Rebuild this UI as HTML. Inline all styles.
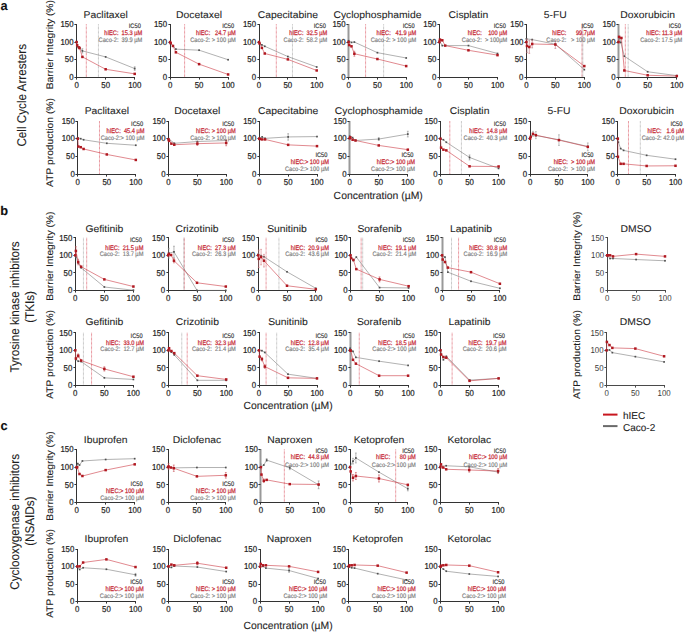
<!DOCTYPE html>
<html><head><meta charset="utf-8"><title>Figure</title>
<style>
html,body{margin:0;padding:0;background:#fff;}
body{width:685px;height:632px;overflow:hidden;font-family:"Liberation Sans", sans-serif;}
svg{display:block;text-rendering:geometricPrecision;}

</style></head><body><div id="w">
<svg width="685" height="632" viewBox="0 0 685 632" font-family='&quot;Liberation Sans&quot;, sans-serif'>
<rect width="100%" height="100%" fill="#fff"/>
<g>
<text font-size="10.35" fill="#1e1e1e" stroke="#1e1e1e" stroke-width="0.08" text-anchor="middle" transform="translate(105.65 18.25) scale(1 0.95)">Paclitaxel</text>
<line x1="86.3" y1="24.4" x2="86.3" y2="77.4" stroke="#d84a58" stroke-width="0.8" stroke-dasharray="0.7,0.6"/>
<line x1="98.45" y1="24.4" x2="98.45" y2="77.4" stroke="#9a9a9a" stroke-width="0.75" stroke-dasharray="0.7,0.6"/>
<line x1="76.5" y1="24" x2="76.5" y2="78" stroke="#333333" stroke-width="1"/>
<line x1="76" y1="77.5" x2="135" y2="77.5" stroke="#333333" stroke-width="1"/>
<line x1="74.4" y1="77.5" x2="76.5" y2="77.5" stroke="#333333" stroke-width="1"/>
<text font-size="7.85" fill="#262626" stroke="#262626" stroke-width="0.2" text-anchor="end" transform="translate(73.6 80.11) scale(1 1.1)">0</text>
<line x1="74.4" y1="59.5" x2="76.5" y2="59.5" stroke="#333333" stroke-width="1"/>
<text font-size="7.85" fill="#262626" stroke="#262626" stroke-width="0.2" text-anchor="end" transform="translate(73.6 62.44) scale(1 1.1)">50</text>
<line x1="74.4" y1="42.5" x2="76.5" y2="42.5" stroke="#333333" stroke-width="1"/>
<text font-size="7.85" fill="#262626" stroke="#262626" stroke-width="0.2" text-anchor="end" transform="translate(73.6 44.78) scale(1 1.1)">100</text>
<line x1="74.4" y1="24.5" x2="76.5" y2="24.5" stroke="#333333" stroke-width="1"/>
<text font-size="7.85" fill="#262626" stroke="#262626" stroke-width="0.2" text-anchor="end" transform="translate(73.6 27.11) scale(1 1.1)">150</text>
<line x1="76.5" y1="77.5" x2="76.5" y2="79.6" stroke="#333333" stroke-width="1"/>
<text font-size="7.85" fill="#262626" stroke="#262626" stroke-width="0.2" text-anchor="middle" transform="translate(76.6 87.95) scale(1 1.1)">0</text>
<line x1="105.5" y1="77.5" x2="105.5" y2="79.6" stroke="#333333" stroke-width="1"/>
<text font-size="7.85" fill="#262626" stroke="#262626" stroke-width="0.2" text-anchor="middle" transform="translate(105.65 87.95) scale(1 1.1)">50</text>
<line x1="134.5" y1="77.5" x2="134.5" y2="79.6" stroke="#333333" stroke-width="1"/>
<text font-size="7.85" fill="#262626" stroke="#262626" stroke-width="0.2" text-anchor="middle" transform="translate(134.7 87.95) scale(1 1.1)">100</text>
<polyline points="76.6,42.07 77.18,46.66 79.5,48.07 82.41,50.9 105.65,56.91 134.7,68.57" fill="none" stroke="#7e7e7e" stroke-width="0.6"/>
<line x1="82.41" y1="48.78" x2="82.41" y2="53.02" stroke="#8a8a8a" stroke-width="0.6"/>
<line x1="81.51" y1="48.78" x2="83.31" y2="48.78" stroke="#8a8a8a" stroke-width="0.6"/>
<line x1="81.51" y1="53.02" x2="83.31" y2="53.02" stroke="#8a8a8a" stroke-width="0.6"/>
<line x1="134.7" y1="66.8" x2="134.7" y2="70.33" stroke="#8a8a8a" stroke-width="0.6"/>
<line x1="133.8" y1="66.8" x2="135.6" y2="66.8" stroke="#8a8a8a" stroke-width="0.6"/>
<line x1="133.8" y1="70.33" x2="135.6" y2="70.33" stroke="#8a8a8a" stroke-width="0.6"/>
<rect x="75.75" y="41.22" width="1.7" height="1.7" fill="#505050"/>
<rect x="76.33" y="45.81" width="1.7" height="1.7" fill="#505050"/>
<rect x="78.66" y="47.22" width="1.7" height="1.7" fill="#505050"/>
<rect x="81.56" y="50.05" width="1.7" height="1.7" fill="#505050"/>
<rect x="104.8" y="56.06" width="1.7" height="1.7" fill="#505050"/>
<rect x="133.85" y="67.72" width="1.7" height="1.7" fill="#505050"/>
<polyline points="76.6,42.07 77.18,45.25 78.92,47.37 79.5,48.07 82.41,56.91 105.65,69.27 134.7,73.87" fill="none" stroke="#cc3a44" stroke-width="0.6"/>
<rect x="75.35" y="40.82" width="2.5" height="2.5" fill="#b01820"/>
<rect x="75.93" y="44" width="2.5" height="2.5" fill="#b01820"/>
<rect x="77.67" y="46.12" width="2.5" height="2.5" fill="#b01820"/>
<rect x="78.25" y="46.82" width="2.5" height="2.5" fill="#b01820"/>
<rect x="81.16" y="55.66" width="2.5" height="2.5" fill="#b01820"/>
<rect x="104.4" y="68.02" width="2.5" height="2.5" fill="#b01820"/>
<rect x="133.45" y="72.62" width="2.5" height="2.5" fill="#b01820"/>
<text font-size="5.7" fill="#333333" stroke="#333333" stroke-width="0.14" text-anchor="end" transform="translate(140.8 27.8) scale(1 1.15)">IC50</text>
<text font-size="5.7" fill="#c8303c" stroke="#c8303c" stroke-width="0.22" text-anchor="end" transform="translate(142.3 34.8) scale(1 1.15)">hIEC:  15.3 µM</text>
<text font-size="5.7" fill="#7a7a7a" stroke="#7a7a7a" stroke-width="0.14" text-anchor="end" transform="translate(142.3 41.9) scale(1 1.15)">Caco-2:  39.9 µM</text>
<text font-size="10.35" fill="#1e1e1e" stroke="#1e1e1e" stroke-width="0.08" text-anchor="middle" transform="translate(199.1 18.25) scale(1 0.95)">Docetaxel</text>
<line x1="184.6" y1="24.4" x2="184.6" y2="77.4" stroke="#d84a58" stroke-width="0.8" stroke-dasharray="0.7,0.6"/>
<line x1="170.5" y1="24" x2="170.5" y2="78" stroke="#333333" stroke-width="1"/>
<line x1="170" y1="77.5" x2="229" y2="77.5" stroke="#333333" stroke-width="1"/>
<line x1="168.4" y1="77.5" x2="170.5" y2="77.5" stroke="#333333" stroke-width="1"/>
<text font-size="7.85" fill="#262626" stroke="#262626" stroke-width="0.2" text-anchor="end" transform="translate(167.1 80.11) scale(1 1.1)">0</text>
<line x1="168.4" y1="59.5" x2="170.5" y2="59.5" stroke="#333333" stroke-width="1"/>
<text font-size="7.85" fill="#262626" stroke="#262626" stroke-width="0.2" text-anchor="end" transform="translate(167.1 62.44) scale(1 1.1)">50</text>
<line x1="168.4" y1="42.5" x2="170.5" y2="42.5" stroke="#333333" stroke-width="1"/>
<text font-size="7.85" fill="#262626" stroke="#262626" stroke-width="0.2" text-anchor="end" transform="translate(167.1 44.78) scale(1 1.1)">100</text>
<line x1="168.4" y1="24.5" x2="170.5" y2="24.5" stroke="#333333" stroke-width="1"/>
<text font-size="7.85" fill="#262626" stroke="#262626" stroke-width="0.2" text-anchor="end" transform="translate(167.1 27.11) scale(1 1.1)">150</text>
<line x1="170.5" y1="77.5" x2="170.5" y2="79.6" stroke="#333333" stroke-width="1"/>
<text font-size="7.85" fill="#262626" stroke="#262626" stroke-width="0.2" text-anchor="middle" transform="translate(170.1 87.95) scale(1 1.1)">0</text>
<line x1="199.5" y1="77.5" x2="199.5" y2="79.6" stroke="#333333" stroke-width="1"/>
<text font-size="7.85" fill="#262626" stroke="#262626" stroke-width="0.2" text-anchor="middle" transform="translate(199.1 87.95) scale(1 1.1)">50</text>
<line x1="228.5" y1="77.5" x2="228.5" y2="79.6" stroke="#333333" stroke-width="1"/>
<text font-size="7.85" fill="#262626" stroke="#262626" stroke-width="0.2" text-anchor="middle" transform="translate(228.1 87.95) scale(1 1.1)">100</text>
<polyline points="170.1,42.42 175.9,49.13 199.1,50.19 228.1,59.73" fill="none" stroke="#7e7e7e" stroke-width="0.6"/>
<rect x="169.25" y="41.57" width="1.7" height="1.7" fill="#505050"/>
<rect x="175.05" y="48.28" width="1.7" height="1.7" fill="#505050"/>
<rect x="198.25" y="49.34" width="1.7" height="1.7" fill="#505050"/>
<rect x="227.25" y="58.88" width="1.7" height="1.7" fill="#505050"/>
<polyline points="170.1,42.07 170.68,43.13 173,45.95 175.9,52.31 199.1,64.15 228.1,74.47" fill="none" stroke="#cc3a44" stroke-width="0.6"/>
<rect x="168.85" y="40.82" width="2.5" height="2.5" fill="#b01820"/>
<rect x="169.43" y="41.88" width="2.5" height="2.5" fill="#b01820"/>
<rect x="171.75" y="44.7" width="2.5" height="2.5" fill="#b01820"/>
<rect x="174.65" y="51.06" width="2.5" height="2.5" fill="#b01820"/>
<rect x="197.85" y="62.9" width="2.5" height="2.5" fill="#b01820"/>
<rect x="226.85" y="73.22" width="2.5" height="2.5" fill="#b01820"/>
<text font-size="5.7" fill="#333333" stroke="#333333" stroke-width="0.14" text-anchor="end" transform="translate(234.2 27.8) scale(1 1.15)">IC50</text>
<text font-size="5.7" fill="#c8303c" stroke="#c8303c" stroke-width="0.22" text-anchor="end" transform="translate(235.7 34.8) scale(1 1.15)">hIEC:   24.7 µM</text>
<text font-size="5.7" fill="#7a7a7a" stroke="#7a7a7a" stroke-width="0.14" text-anchor="end" transform="translate(235.7 41.9) scale(1 1.15)">Caco-2: &gt; 100 µM</text>
<text font-size="10.35" fill="#1e1e1e" stroke="#1e1e1e" stroke-width="0.08" text-anchor="middle" transform="translate(287.85 18.25) scale(1 0.95)">Capecitabine</text>
<line x1="276.31" y1="24.4" x2="276.31" y2="77.4" stroke="#d84a58" stroke-width="0.8" stroke-dasharray="0.7,0.6"/>
<line x1="292.47" y1="24.4" x2="292.47" y2="77.4" stroke="#9a9a9a" stroke-width="0.75" stroke-dasharray="0.7,0.6"/>
<line x1="259.5" y1="24" x2="259.5" y2="78" stroke="#333333" stroke-width="1"/>
<line x1="259" y1="77.5" x2="317" y2="77.5" stroke="#333333" stroke-width="1"/>
<line x1="257.4" y1="77.5" x2="259.5" y2="77.5" stroke="#333333" stroke-width="1"/>
<text font-size="7.85" fill="#262626" stroke="#262626" stroke-width="0.2" text-anchor="end" transform="translate(256 80.11) scale(1 1.1)">0</text>
<line x1="257.4" y1="59.5" x2="259.5" y2="59.5" stroke="#333333" stroke-width="1"/>
<text font-size="7.85" fill="#262626" stroke="#262626" stroke-width="0.2" text-anchor="end" transform="translate(256 62.44) scale(1 1.1)">50</text>
<line x1="257.4" y1="42.5" x2="259.5" y2="42.5" stroke="#333333" stroke-width="1"/>
<text font-size="7.85" fill="#262626" stroke="#262626" stroke-width="0.2" text-anchor="end" transform="translate(256 44.78) scale(1 1.1)">100</text>
<line x1="257.4" y1="24.5" x2="259.5" y2="24.5" stroke="#333333" stroke-width="1"/>
<text font-size="7.85" fill="#262626" stroke="#262626" stroke-width="0.2" text-anchor="end" transform="translate(256 27.11) scale(1 1.1)">150</text>
<line x1="259.5" y1="77.5" x2="259.5" y2="79.6" stroke="#333333" stroke-width="1"/>
<text font-size="7.85" fill="#262626" stroke="#262626" stroke-width="0.2" text-anchor="middle" transform="translate(259 87.95) scale(1 1.1)">0</text>
<line x1="287.5" y1="77.5" x2="287.5" y2="79.6" stroke="#333333" stroke-width="1"/>
<text font-size="7.85" fill="#262626" stroke="#262626" stroke-width="0.2" text-anchor="middle" transform="translate(287.85 87.95) scale(1 1.1)">50</text>
<line x1="316.5" y1="77.5" x2="316.5" y2="79.6" stroke="#333333" stroke-width="1"/>
<text font-size="7.85" fill="#262626" stroke="#262626" stroke-width="0.2" text-anchor="middle" transform="translate(316.7 87.95) scale(1 1.1)">100</text>
<polyline points="259,42.42 261.88,44.89 264.77,46.31 287.85,56.55 316.7,66.98" fill="none" stroke="#7e7e7e" stroke-width="0.6"/>
<rect x="258.15" y="41.57" width="1.7" height="1.7" fill="#505050"/>
<rect x="261.03" y="44.04" width="1.7" height="1.7" fill="#505050"/>
<rect x="263.92" y="45.46" width="1.7" height="1.7" fill="#505050"/>
<rect x="287" y="55.7" width="1.7" height="1.7" fill="#505050"/>
<rect x="315.85" y="66.13" width="1.7" height="1.7" fill="#505050"/>
<polyline points="259,42.07 259.58,43.48 261.88,47.9 264.77,53.51 287.85,59.38 316.7,70.47" fill="none" stroke="#cc3a44" stroke-width="0.6"/>
<rect x="257.75" y="40.82" width="2.5" height="2.5" fill="#b01820"/>
<rect x="258.33" y="42.23" width="2.5" height="2.5" fill="#b01820"/>
<rect x="260.63" y="46.65" width="2.5" height="2.5" fill="#b01820"/>
<rect x="263.52" y="52.26" width="2.5" height="2.5" fill="#b01820"/>
<rect x="286.6" y="58.13" width="2.5" height="2.5" fill="#b01820"/>
<rect x="315.45" y="69.22" width="2.5" height="2.5" fill="#b01820"/>
<text font-size="5.7" fill="#333333" stroke="#333333" stroke-width="0.14" text-anchor="end" transform="translate(325.8 27.8) scale(1 1.15)">IC50</text>
<text font-size="5.7" fill="#c8303c" stroke="#c8303c" stroke-width="0.22" text-anchor="end" transform="translate(327.3 34.8) scale(1 1.15)">hIEC:  32.5 µM</text>
<text font-size="5.7" fill="#7a7a7a" stroke="#7a7a7a" stroke-width="0.14" text-anchor="end" transform="translate(327.3 41.9) scale(1 1.15)">Caco-2:  58.2 µM</text>
<text font-size="10.35" fill="#1e1e1e" stroke="#1e1e1e" stroke-width="0.08" text-anchor="middle" transform="translate(377.4 18.25) scale(1 0.95)">Cyclophosphamide</text>
<line x1="365.59" y1="24.4" x2="365.59" y2="77.4" stroke="#d84a58" stroke-width="0.8" stroke-dasharray="0.7,0.6"/>
<line x1="383.62" y1="24.4" x2="383.62" y2="77.4" stroke="#9a9a9a" stroke-width="0.75" stroke-dasharray="0.7,0.6"/>
<rect x="347.5" y="24" width="2" height="53.5" fill="#999999"/>
<line x1="348" y1="77.5" x2="407" y2="77.5" stroke="#333333" stroke-width="1"/>
<line x1="346.4" y1="77.5" x2="348.5" y2="77.5" stroke="#333333" stroke-width="1"/>
<text font-size="7.85" fill="#262626" stroke="#262626" stroke-width="0.2" text-anchor="end" transform="translate(345.6 80.11) scale(1 1.1)">0</text>
<line x1="346.4" y1="59.5" x2="348.5" y2="59.5" stroke="#333333" stroke-width="1"/>
<text font-size="7.85" fill="#262626" stroke="#262626" stroke-width="0.2" text-anchor="end" transform="translate(345.6 62.44) scale(1 1.1)">50</text>
<line x1="346.4" y1="42.5" x2="348.5" y2="42.5" stroke="#333333" stroke-width="1"/>
<text font-size="7.85" fill="#262626" stroke="#262626" stroke-width="0.2" text-anchor="end" transform="translate(345.6 44.78) scale(1 1.1)">100</text>
<line x1="346.4" y1="24.5" x2="348.5" y2="24.5" stroke="#333333" stroke-width="1"/>
<text font-size="7.85" fill="#262626" stroke="#262626" stroke-width="0.2" text-anchor="end" transform="translate(345.6 27.11) scale(1 1.1)">150</text>
<line x1="348.5" y1="77.5" x2="348.5" y2="79.6" stroke="#333333" stroke-width="1"/>
<text font-size="7.85" fill="#262626" stroke="#262626" stroke-width="0.2" text-anchor="middle" transform="translate(348.6 87.95) scale(1 1.1)">0</text>
<line x1="377.5" y1="77.5" x2="377.5" y2="79.6" stroke="#333333" stroke-width="1"/>
<text font-size="7.85" fill="#262626" stroke="#262626" stroke-width="0.2" text-anchor="middle" transform="translate(377.4 87.95) scale(1 1.1)">50</text>
<line x1="406.5" y1="77.5" x2="406.5" y2="79.6" stroke="#333333" stroke-width="1"/>
<text font-size="7.85" fill="#262626" stroke="#262626" stroke-width="0.2" text-anchor="middle" transform="translate(406.2 87.95) scale(1 1.1)">100</text>
<polyline points="348.6,40.76 351.48,42.42 354.36,42.07 377.4,52.67 406.2,57.97" fill="none" stroke="#7e7e7e" stroke-width="0.6"/>
<rect x="347.75" y="39.91" width="1.7" height="1.7" fill="#505050"/>
<rect x="350.63" y="41.57" width="1.7" height="1.7" fill="#505050"/>
<rect x="353.51" y="41.22" width="1.7" height="1.7" fill="#505050"/>
<rect x="376.55" y="51.82" width="1.7" height="1.7" fill="#505050"/>
<rect x="405.35" y="57.12" width="1.7" height="1.7" fill="#505050"/>
<polyline points="348.6,42.07 349.18,45.07 351.48,46.31 354.36,53.73 377.4,59.03 406.2,66.09" fill="none" stroke="#cc3a44" stroke-width="0.6"/>
<line x1="354.36" y1="51.25" x2="354.36" y2="56.2" stroke="#c85058" stroke-width="0.6"/>
<line x1="353.46" y1="51.25" x2="355.26" y2="51.25" stroke="#c85058" stroke-width="0.6"/>
<line x1="353.46" y1="56.2" x2="355.26" y2="56.2" stroke="#c85058" stroke-width="0.6"/>
<rect x="347.35" y="40.82" width="2.5" height="2.5" fill="#b01820"/>
<rect x="347.93" y="43.82" width="2.5" height="2.5" fill="#b01820"/>
<rect x="350.23" y="45.06" width="2.5" height="2.5" fill="#b01820"/>
<rect x="353.11" y="52.48" width="2.5" height="2.5" fill="#b01820"/>
<rect x="376.15" y="57.78" width="2.5" height="2.5" fill="#b01820"/>
<rect x="404.95" y="64.84" width="2.5" height="2.5" fill="#b01820"/>
<text font-size="5.7" fill="#333333" stroke="#333333" stroke-width="0.14" text-anchor="end" transform="translate(414.7 27.8) scale(1 1.15)">IC50</text>
<text font-size="5.7" fill="#c8303c" stroke="#c8303c" stroke-width="0.22" text-anchor="end" transform="translate(416.2 34.8) scale(1 1.15)">hIEC:   41.9 µM</text>
<text font-size="5.7" fill="#7a7a7a" stroke="#7a7a7a" stroke-width="0.14" text-anchor="end" transform="translate(416.2 41.9) scale(1 1.15)">Caco-2: &gt; 100 µM</text>
<text font-size="10.35" fill="#1e1e1e" stroke="#1e1e1e" stroke-width="0.08" text-anchor="middle" transform="translate(468.45 18.25) scale(1 0.95)">Cisplatin</text>
<line x1="439.5" y1="24" x2="439.5" y2="78" stroke="#333333" stroke-width="1"/>
<line x1="439" y1="77.5" x2="498" y2="77.5" stroke="#333333" stroke-width="1"/>
<line x1="437.4" y1="77.5" x2="439.5" y2="77.5" stroke="#333333" stroke-width="1"/>
<text font-size="7.85" fill="#262626" stroke="#262626" stroke-width="0.2" text-anchor="end" transform="translate(436.4 80.11) scale(1 1.1)">0</text>
<line x1="437.4" y1="59.5" x2="439.5" y2="59.5" stroke="#333333" stroke-width="1"/>
<text font-size="7.85" fill="#262626" stroke="#262626" stroke-width="0.2" text-anchor="end" transform="translate(436.4 62.44) scale(1 1.1)">50</text>
<line x1="437.4" y1="42.5" x2="439.5" y2="42.5" stroke="#333333" stroke-width="1"/>
<text font-size="7.85" fill="#262626" stroke="#262626" stroke-width="0.2" text-anchor="end" transform="translate(436.4 44.78) scale(1 1.1)">100</text>
<line x1="437.4" y1="24.5" x2="439.5" y2="24.5" stroke="#333333" stroke-width="1"/>
<text font-size="7.85" fill="#262626" stroke="#262626" stroke-width="0.2" text-anchor="end" transform="translate(436.4 27.11) scale(1 1.1)">150</text>
<line x1="439.5" y1="77.5" x2="439.5" y2="79.6" stroke="#333333" stroke-width="1"/>
<text font-size="7.85" fill="#262626" stroke="#262626" stroke-width="0.2" text-anchor="middle" transform="translate(439.4 87.95) scale(1 1.1)">0</text>
<line x1="468.5" y1="77.5" x2="468.5" y2="79.6" stroke="#333333" stroke-width="1"/>
<text font-size="7.85" fill="#262626" stroke="#262626" stroke-width="0.2" text-anchor="middle" transform="translate(468.45 87.95) scale(1 1.1)">50</text>
<line x1="497.5" y1="77.5" x2="497.5" y2="79.6" stroke="#333333" stroke-width="1"/>
<text font-size="7.85" fill="#262626" stroke="#262626" stroke-width="0.2" text-anchor="middle" transform="translate(497.5 87.95) scale(1 1.1)">100</text>
<polyline points="439.4,40.65 442.3,45.6 468.45,45.6 497.5,53.51" fill="none" stroke="#7e7e7e" stroke-width="0.6"/>
<rect x="438.55" y="39.8" width="1.7" height="1.7" fill="#505050"/>
<rect x="441.45" y="44.75" width="1.7" height="1.7" fill="#505050"/>
<rect x="467.6" y="44.75" width="1.7" height="1.7" fill="#505050"/>
<rect x="496.65" y="52.66" width="1.7" height="1.7" fill="#505050"/>
<polyline points="439.4,42.07 439.98,39.59 442.3,40.3 445.21,45.6 468.45,50.3 497.5,55.14" fill="none" stroke="#cc3a44" stroke-width="0.6"/>
<rect x="438.15" y="40.82" width="2.5" height="2.5" fill="#b01820"/>
<rect x="438.73" y="38.34" width="2.5" height="2.5" fill="#b01820"/>
<rect x="441.05" y="39.05" width="2.5" height="2.5" fill="#b01820"/>
<rect x="443.96" y="44.35" width="2.5" height="2.5" fill="#b01820"/>
<rect x="467.2" y="49.05" width="2.5" height="2.5" fill="#b01820"/>
<rect x="496.25" y="53.89" width="2.5" height="2.5" fill="#b01820"/>
<text font-size="5.7" fill="#333333" stroke="#333333" stroke-width="0.14" text-anchor="end" transform="translate(505.8 27.8) scale(1 1.15)">IC50</text>
<text font-size="5.7" fill="#c8303c" stroke="#c8303c" stroke-width="0.22" text-anchor="end" transform="translate(507.3 34.8) scale(1 1.15)">hIEC:    100 µM</text>
<text font-size="5.7" fill="#7a7a7a" stroke="#7a7a7a" stroke-width="0.14" text-anchor="end" transform="translate(507.3 41.9) scale(1 1.15)">Caco-2:  &gt; 100µM</text>
<text font-size="10.35" fill="#1e1e1e" stroke="#1e1e1e" stroke-width="0.08" text-anchor="middle" transform="translate(555.35 18.25) scale(1 0.95)">5-FU</text>
<line x1="581.98" y1="24.4" x2="581.98" y2="77.4" stroke="#d84a58" stroke-width="0.8" stroke-dasharray="0.7,0.6"/>
<line x1="582.85" y1="24.4" x2="582.85" y2="77.4" stroke="#9a9a9a" stroke-width="0.75" stroke-dasharray="0.7,0.6"/>
<line x1="526.5" y1="24" x2="526.5" y2="78" stroke="#333333" stroke-width="1"/>
<line x1="526" y1="77.5" x2="585" y2="77.5" stroke="#333333" stroke-width="1"/>
<line x1="524.4" y1="77.5" x2="526.5" y2="77.5" stroke="#333333" stroke-width="1"/>
<text font-size="7.85" fill="#262626" stroke="#262626" stroke-width="0.2" text-anchor="end" transform="translate(523.4 80.11) scale(1 1.1)">0</text>
<line x1="524.4" y1="59.5" x2="526.5" y2="59.5" stroke="#333333" stroke-width="1"/>
<text font-size="7.85" fill="#262626" stroke="#262626" stroke-width="0.2" text-anchor="end" transform="translate(523.4 62.44) scale(1 1.1)">50</text>
<line x1="524.4" y1="42.5" x2="526.5" y2="42.5" stroke="#333333" stroke-width="1"/>
<text font-size="7.85" fill="#262626" stroke="#262626" stroke-width="0.2" text-anchor="end" transform="translate(523.4 44.78) scale(1 1.1)">100</text>
<line x1="524.4" y1="24.5" x2="526.5" y2="24.5" stroke="#333333" stroke-width="1"/>
<text font-size="7.85" fill="#262626" stroke="#262626" stroke-width="0.2" text-anchor="end" transform="translate(523.4 27.11) scale(1 1.1)">150</text>
<line x1="526.5" y1="77.5" x2="526.5" y2="79.6" stroke="#333333" stroke-width="1"/>
<text font-size="7.85" fill="#262626" stroke="#262626" stroke-width="0.2" text-anchor="middle" transform="translate(526.4 87.95) scale(1 1.1)">0</text>
<line x1="555.5" y1="77.5" x2="555.5" y2="79.6" stroke="#333333" stroke-width="1"/>
<text font-size="7.85" fill="#262626" stroke="#262626" stroke-width="0.2" text-anchor="middle" transform="translate(555.35 87.95) scale(1 1.1)">50</text>
<line x1="584.5" y1="77.5" x2="584.5" y2="79.6" stroke="#333333" stroke-width="1"/>
<text font-size="7.85" fill="#262626" stroke="#262626" stroke-width="0.2" text-anchor="middle" transform="translate(584.3 87.95) scale(1 1.1)">100</text>
<polyline points="526.4,38.89 532.19,39.59 555.35,44.19 584.3,69.63" fill="none" stroke="#7e7e7e" stroke-width="0.6"/>
<rect x="525.55" y="38.04" width="1.7" height="1.7" fill="#505050"/>
<rect x="531.34" y="38.74" width="1.7" height="1.7" fill="#505050"/>
<rect x="554.5" y="43.34" width="1.7" height="1.7" fill="#505050"/>
<rect x="583.45" y="68.78" width="1.7" height="1.7" fill="#505050"/>
<polyline points="526.4,42.07 526.98,45.95 529.29,47.01 532.19,43.97 555.35,44.54 584.3,66.09" fill="none" stroke="#cc3a44" stroke-width="0.6"/>
<line x1="526.98" y1="39.24" x2="526.98" y2="52.67" stroke="#c07078" stroke-width="0.6"/>
<line x1="526.08" y1="39.24" x2="527.88" y2="39.24" stroke="#c07078" stroke-width="0.6"/>
<line x1="526.08" y1="52.67" x2="527.88" y2="52.67" stroke="#c07078" stroke-width="0.6"/>
<line x1="529.29" y1="40.65" x2="529.29" y2="53.37" stroke="#c07078" stroke-width="0.6"/>
<line x1="528.39" y1="40.65" x2="530.19" y2="40.65" stroke="#c07078" stroke-width="0.6"/>
<line x1="528.39" y1="53.37" x2="530.19" y2="53.37" stroke="#c07078" stroke-width="0.6"/>
<line x1="532.19" y1="40.09" x2="532.19" y2="47.86" stroke="#c07078" stroke-width="0.6"/>
<line x1="531.29" y1="40.09" x2="533.09" y2="40.09" stroke="#c07078" stroke-width="0.6"/>
<line x1="531.29" y1="47.86" x2="533.09" y2="47.86" stroke="#c07078" stroke-width="0.6"/>
<line x1="555.35" y1="40.65" x2="555.35" y2="48.43" stroke="#c07078" stroke-width="0.6"/>
<line x1="554.45" y1="40.65" x2="556.25" y2="40.65" stroke="#c07078" stroke-width="0.6"/>
<line x1="554.45" y1="48.43" x2="556.25" y2="48.43" stroke="#c07078" stroke-width="0.6"/>
<rect x="525.15" y="40.82" width="2.5" height="2.5" fill="#b01820"/>
<rect x="525.73" y="44.7" width="2.5" height="2.5" fill="#b01820"/>
<rect x="528.04" y="45.76" width="2.5" height="2.5" fill="#b01820"/>
<rect x="530.94" y="42.72" width="2.5" height="2.5" fill="#b01820"/>
<rect x="554.1" y="43.29" width="2.5" height="2.5" fill="#b01820"/>
<rect x="583.05" y="64.84" width="2.5" height="2.5" fill="#b01820"/>
<text font-size="5.7" fill="#333333" stroke="#333333" stroke-width="0.14" text-anchor="end" transform="translate(593.5 27.8) scale(1 1.15)">IC50</text>
<text font-size="5.7" fill="#c8303c" stroke="#c8303c" stroke-width="0.22" text-anchor="end" transform="translate(595 34.8) scale(1 1.15)">hIEC:      99.7µM</text>
<text font-size="5.7" fill="#7a7a7a" stroke="#7a7a7a" stroke-width="0.14" text-anchor="end" transform="translate(595 41.9) scale(1 1.15)">Caco-2:   &gt; 100 µM</text>
<text font-size="10.35" fill="#1e1e1e" stroke="#1e1e1e" stroke-width="0.08" text-anchor="middle" transform="translate(647.65 18.25) scale(1 0.95)">Doxorubicin</text>
<line x1="625.32" y1="24.4" x2="625.32" y2="77.4" stroke="#d84a58" stroke-width="0.8" stroke-dasharray="0.7,0.6"/>
<line x1="628.18" y1="24.4" x2="628.18" y2="77.4" stroke="#9a9a9a" stroke-width="0.75" stroke-dasharray="0.7,0.6"/>
<rect x="617.5" y="24" width="2" height="53.5" fill="#999999"/>
<line x1="618" y1="77.5" x2="677" y2="77.5" stroke="#333333" stroke-width="1"/>
<line x1="616.4" y1="77.5" x2="618.5" y2="77.5" stroke="#333333" stroke-width="1"/>
<text font-size="7.85" fill="#262626" stroke="#262626" stroke-width="0.2" text-anchor="end" transform="translate(615.5 80.11) scale(1 1.1)">0</text>
<line x1="616.4" y1="59.5" x2="618.5" y2="59.5" stroke="#333333" stroke-width="1"/>
<text font-size="7.85" fill="#262626" stroke="#262626" stroke-width="0.2" text-anchor="end" transform="translate(615.5 62.44) scale(1 1.1)">50</text>
<line x1="616.4" y1="42.5" x2="618.5" y2="42.5" stroke="#333333" stroke-width="1"/>
<text font-size="7.85" fill="#262626" stroke="#262626" stroke-width="0.2" text-anchor="end" transform="translate(615.5 44.78) scale(1 1.1)">100</text>
<line x1="616.4" y1="24.5" x2="618.5" y2="24.5" stroke="#333333" stroke-width="1"/>
<text font-size="7.85" fill="#262626" stroke="#262626" stroke-width="0.2" text-anchor="end" transform="translate(615.5 27.11) scale(1 1.1)">150</text>
<line x1="618.5" y1="77.5" x2="618.5" y2="79.6" stroke="#333333" stroke-width="1"/>
<text font-size="7.85" fill="#262626" stroke="#262626" stroke-width="0.2" text-anchor="middle" transform="translate(618.5 87.95) scale(1 1.1)">0</text>
<line x1="647.5" y1="77.5" x2="647.5" y2="79.6" stroke="#333333" stroke-width="1"/>
<text font-size="7.85" fill="#262626" stroke="#262626" stroke-width="0.2" text-anchor="middle" transform="translate(647.65 87.95) scale(1 1.1)">50</text>
<line x1="676.5" y1="77.5" x2="676.5" y2="79.6" stroke="#333333" stroke-width="1"/>
<text font-size="7.85" fill="#262626" stroke="#262626" stroke-width="0.2" text-anchor="middle" transform="translate(676.8 87.95) scale(1 1.1)">100</text>
<polyline points="618.5,41.71 619.67,37.65 620.83,42.42 624.33,56.2 647.65,71.75 676.8,75.63" fill="none" stroke="#7e7e7e" stroke-width="0.6"/>
<rect x="617.65" y="40.86" width="1.7" height="1.7" fill="#505050"/>
<rect x="618.82" y="36.8" width="1.7" height="1.7" fill="#505050"/>
<rect x="619.98" y="41.57" width="1.7" height="1.7" fill="#505050"/>
<rect x="623.48" y="55.35" width="1.7" height="1.7" fill="#505050"/>
<rect x="646.8" y="70.9" width="1.7" height="1.7" fill="#505050"/>
<rect x="675.95" y="74.78" width="1.7" height="1.7" fill="#505050"/>
<polyline points="618.5,42.07 619.08,36.84 621.41,37.97 624.33,70.47 647.65,75.28 676.8,76.09" fill="none" stroke="#cc3a44" stroke-width="0.6"/>
<rect x="617.25" y="40.82" width="2.5" height="2.5" fill="#b01820"/>
<rect x="617.83" y="35.59" width="2.5" height="2.5" fill="#b01820"/>
<rect x="620.16" y="36.72" width="2.5" height="2.5" fill="#b01820"/>
<rect x="623.08" y="69.22" width="2.5" height="2.5" fill="#b01820"/>
<rect x="646.4" y="74.03" width="2.5" height="2.5" fill="#b01820"/>
<rect x="675.55" y="74.84" width="2.5" height="2.5" fill="#b01820"/>
<text font-size="5.7" fill="#333333" stroke="#333333" stroke-width="0.14" text-anchor="end" transform="translate(680.8 27.8) scale(1 1.15)">IC50</text>
<text font-size="5.7" fill="#c8303c" stroke="#c8303c" stroke-width="0.22" text-anchor="end" transform="translate(682.3 34.8) scale(1 1.15)">hIEC: 11.3 µM</text>
<text font-size="5.7" fill="#7a7a7a" stroke="#7a7a7a" stroke-width="0.14" text-anchor="end" transform="translate(682.3 41.9) scale(1 1.15)">Caco-2: 17.5 µM</text>
<text font-size="10.35" fill="#1e1e1e" stroke="#1e1e1e" stroke-width="0.08" text-anchor="middle" transform="translate(106.8 114.2) scale(1 0.95)">Paclitaxel</text>
<line x1="99.49" y1="121" x2="99.49" y2="174.1" stroke="#d84a58" stroke-width="0.8" stroke-dasharray="0.7,0.6"/>
<line x1="77.5" y1="121" x2="77.5" y2="175" stroke="#333333" stroke-width="1"/>
<line x1="77" y1="174.5" x2="136" y2="174.5" stroke="#333333" stroke-width="1"/>
<line x1="75.4" y1="174.5" x2="77.5" y2="174.5" stroke="#333333" stroke-width="1"/>
<text font-size="7.85" fill="#262626" stroke="#262626" stroke-width="0.2" text-anchor="end" transform="translate(74.8 176.81) scale(1 1.1)">0</text>
<line x1="75.4" y1="156.5" x2="77.5" y2="156.5" stroke="#333333" stroke-width="1"/>
<text font-size="7.85" fill="#262626" stroke="#262626" stroke-width="0.2" text-anchor="end" transform="translate(74.8 159.11) scale(1 1.1)">50</text>
<line x1="75.4" y1="138.5" x2="77.5" y2="138.5" stroke="#333333" stroke-width="1"/>
<text font-size="7.85" fill="#262626" stroke="#262626" stroke-width="0.2" text-anchor="end" transform="translate(74.8 141.41) scale(1 1.1)">100</text>
<line x1="75.4" y1="121.5" x2="77.5" y2="121.5" stroke="#333333" stroke-width="1"/>
<text font-size="7.85" fill="#262626" stroke="#262626" stroke-width="0.2" text-anchor="end" transform="translate(74.8 123.71) scale(1 1.1)">150</text>
<line x1="77.5" y1="174.5" x2="77.5" y2="176.6" stroke="#333333" stroke-width="1"/>
<text font-size="7.85" fill="#262626" stroke="#262626" stroke-width="0.2" text-anchor="middle" transform="translate(77.8 184.65) scale(1 1.1)">0</text>
<line x1="106.5" y1="174.5" x2="106.5" y2="176.6" stroke="#333333" stroke-width="1"/>
<text font-size="7.85" fill="#262626" stroke="#262626" stroke-width="0.2" text-anchor="middle" transform="translate(106.8 184.65) scale(1 1.1)">50</text>
<line x1="135.5" y1="174.5" x2="135.5" y2="176.6" stroke="#333333" stroke-width="1"/>
<text font-size="7.85" fill="#262626" stroke="#262626" stroke-width="0.2" text-anchor="middle" transform="translate(135.8 184.65) scale(1 1.1)">100</text>
<polyline points="77.8,137.81 80.7,138.7 83.6,139.76 106.8,143.3 135.8,145.25" fill="none" stroke="#7e7e7e" stroke-width="0.6"/>
<rect x="76.95" y="136.97" width="1.7" height="1.7" fill="#505050"/>
<rect x="79.85" y="137.85" width="1.7" height="1.7" fill="#505050"/>
<rect x="82.75" y="138.91" width="1.7" height="1.7" fill="#505050"/>
<rect x="105.95" y="142.45" width="1.7" height="1.7" fill="#505050"/>
<rect x="134.95" y="144.4" width="1.7" height="1.7" fill="#505050"/>
<polyline points="77.8,138.7 78.38,146.56 80.7,147.2 83.6,148.97 106.8,154.45 135.8,159.94" fill="none" stroke="#cc3a44" stroke-width="0.6"/>
<rect x="76.55" y="137.45" width="2.5" height="2.5" fill="#b01820"/>
<rect x="77.13" y="145.31" width="2.5" height="2.5" fill="#b01820"/>
<rect x="79.45" y="145.95" width="2.5" height="2.5" fill="#b01820"/>
<rect x="82.35" y="147.72" width="2.5" height="2.5" fill="#b01820"/>
<rect x="105.55" y="153.2" width="2.5" height="2.5" fill="#b01820"/>
<rect x="134.55" y="158.69" width="2.5" height="2.5" fill="#b01820"/>
<text font-size="5.7" fill="#333333" stroke="#333333" stroke-width="0.14" text-anchor="end" transform="translate(143.1 125.7) scale(1 1.15)">IC50</text>
<text font-size="5.7" fill="#c8303c" stroke="#c8303c" stroke-width="0.22" text-anchor="end" transform="translate(144.6 132.5) scale(1 1.15)">hIEC:  45.4 µM</text>
<text font-size="5.7" fill="#7a7a7a" stroke="#7a7a7a" stroke-width="0.14" text-anchor="end" transform="translate(144.6 139.9) scale(1 1.15)">Caco-2:&gt; 100 µM</text>
<text font-size="10.35" fill="#1e1e1e" stroke="#1e1e1e" stroke-width="0.08" text-anchor="middle" transform="translate(197.35 114.2) scale(1 0.95)">Docetaxel</text>
<line x1="168.5" y1="121" x2="168.5" y2="175" stroke="#333333" stroke-width="1"/>
<line x1="168" y1="174.5" x2="227" y2="174.5" stroke="#333333" stroke-width="1"/>
<line x1="166.4" y1="174.5" x2="168.5" y2="174.5" stroke="#333333" stroke-width="1"/>
<text font-size="7.85" fill="#262626" stroke="#262626" stroke-width="0.2" text-anchor="end" transform="translate(165.5 176.81) scale(1 1.1)">0</text>
<line x1="166.4" y1="156.5" x2="168.5" y2="156.5" stroke="#333333" stroke-width="1"/>
<text font-size="7.85" fill="#262626" stroke="#262626" stroke-width="0.2" text-anchor="end" transform="translate(165.5 159.11) scale(1 1.1)">50</text>
<line x1="166.4" y1="138.5" x2="168.5" y2="138.5" stroke="#333333" stroke-width="1"/>
<text font-size="7.85" fill="#262626" stroke="#262626" stroke-width="0.2" text-anchor="end" transform="translate(165.5 141.41) scale(1 1.1)">100</text>
<line x1="166.4" y1="121.5" x2="168.5" y2="121.5" stroke="#333333" stroke-width="1"/>
<text font-size="7.85" fill="#262626" stroke="#262626" stroke-width="0.2" text-anchor="end" transform="translate(165.5 123.71) scale(1 1.1)">150</text>
<line x1="168.5" y1="174.5" x2="168.5" y2="176.6" stroke="#333333" stroke-width="1"/>
<text font-size="7.85" fill="#262626" stroke="#262626" stroke-width="0.2" text-anchor="middle" transform="translate(168.5 184.65) scale(1 1.1)">0</text>
<line x1="197.5" y1="174.5" x2="197.5" y2="176.6" stroke="#333333" stroke-width="1"/>
<text font-size="7.85" fill="#262626" stroke="#262626" stroke-width="0.2" text-anchor="middle" transform="translate(197.35 184.65) scale(1 1.1)">50</text>
<line x1="226.5" y1="174.5" x2="226.5" y2="176.6" stroke="#333333" stroke-width="1"/>
<text font-size="7.85" fill="#262626" stroke="#262626" stroke-width="0.2" text-anchor="middle" transform="translate(226.2 184.65) scale(1 1.1)">100</text>
<polyline points="168.5,138.7 174.27,143.3 197.35,141.53 226.2,140.47" fill="none" stroke="#7e7e7e" stroke-width="0.6"/>
<rect x="167.65" y="137.85" width="1.7" height="1.7" fill="#505050"/>
<rect x="173.42" y="142.45" width="1.7" height="1.7" fill="#505050"/>
<rect x="196.5" y="140.68" width="1.7" height="1.7" fill="#505050"/>
<rect x="225.35" y="139.62" width="1.7" height="1.7" fill="#505050"/>
<polyline points="168.5,139.41 169.08,140.82 171.38,143.66 174.27,144.72 197.35,143.66 226.2,142.95" fill="none" stroke="#cc3a44" stroke-width="0.6"/>
<line x1="197.35" y1="141.89" x2="197.35" y2="145.43" stroke="#c85058" stroke-width="0.6"/>
<line x1="196.45" y1="141.89" x2="198.25" y2="141.89" stroke="#c85058" stroke-width="0.6"/>
<line x1="196.45" y1="145.43" x2="198.25" y2="145.43" stroke="#c85058" stroke-width="0.6"/>
<line x1="226.2" y1="140.12" x2="226.2" y2="145.78" stroke="#c85058" stroke-width="0.6"/>
<line x1="225.3" y1="140.12" x2="227.1" y2="140.12" stroke="#c85058" stroke-width="0.6"/>
<line x1="225.3" y1="145.78" x2="227.1" y2="145.78" stroke="#c85058" stroke-width="0.6"/>
<rect x="167.25" y="138.16" width="2.5" height="2.5" fill="#b01820"/>
<rect x="167.83" y="139.57" width="2.5" height="2.5" fill="#b01820"/>
<rect x="170.13" y="142.41" width="2.5" height="2.5" fill="#b01820"/>
<rect x="173.02" y="143.47" width="2.5" height="2.5" fill="#b01820"/>
<rect x="196.1" y="142.41" width="2.5" height="2.5" fill="#b01820"/>
<rect x="224.95" y="141.7" width="2.5" height="2.5" fill="#b01820"/>
<text font-size="5.7" fill="#333333" stroke="#333333" stroke-width="0.14" text-anchor="end" transform="translate(234.2 125.7) scale(1 1.15)">IC50</text>
<text font-size="5.7" fill="#c8303c" stroke="#c8303c" stroke-width="0.22" text-anchor="end" transform="translate(235.7 132.5) scale(1 1.15)">hIEC: &gt; 100 µM</text>
<text font-size="5.7" fill="#7a7a7a" stroke="#7a7a7a" stroke-width="0.14" text-anchor="end" transform="translate(235.7 139.9) scale(1 1.15)">Caco-2: &gt; 100 µM</text>
<text font-size="10.35" fill="#1e1e1e" stroke="#1e1e1e" stroke-width="0.08" text-anchor="middle" transform="translate(288.15 114.2) scale(1 0.95)">Capecitabine</text>
<line x1="259.5" y1="121" x2="259.5" y2="175" stroke="#333333" stroke-width="1"/>
<line x1="259" y1="174.5" x2="318" y2="174.5" stroke="#333333" stroke-width="1"/>
<line x1="257.4" y1="174.5" x2="259.5" y2="174.5" stroke="#333333" stroke-width="1"/>
<text font-size="7.85" fill="#262626" stroke="#262626" stroke-width="0.2" text-anchor="end" transform="translate(256.3 176.81) scale(1 1.1)">0</text>
<line x1="257.4" y1="156.5" x2="259.5" y2="156.5" stroke="#333333" stroke-width="1"/>
<text font-size="7.85" fill="#262626" stroke="#262626" stroke-width="0.2" text-anchor="end" transform="translate(256.3 159.11) scale(1 1.1)">50</text>
<line x1="257.4" y1="138.5" x2="259.5" y2="138.5" stroke="#333333" stroke-width="1"/>
<text font-size="7.85" fill="#262626" stroke="#262626" stroke-width="0.2" text-anchor="end" transform="translate(256.3 141.41) scale(1 1.1)">100</text>
<line x1="257.4" y1="121.5" x2="259.5" y2="121.5" stroke="#333333" stroke-width="1"/>
<text font-size="7.85" fill="#262626" stroke="#262626" stroke-width="0.2" text-anchor="end" transform="translate(256.3 123.71) scale(1 1.1)">150</text>
<line x1="259.5" y1="174.5" x2="259.5" y2="176.6" stroke="#333333" stroke-width="1"/>
<text font-size="7.85" fill="#262626" stroke="#262626" stroke-width="0.2" text-anchor="middle" transform="translate(259.3 184.65) scale(1 1.1)">0</text>
<line x1="288.5" y1="174.5" x2="288.5" y2="176.6" stroke="#333333" stroke-width="1"/>
<text font-size="7.85" fill="#262626" stroke="#262626" stroke-width="0.2" text-anchor="middle" transform="translate(288.15 184.65) scale(1 1.1)">50</text>
<line x1="317.5" y1="174.5" x2="317.5" y2="176.6" stroke="#333333" stroke-width="1"/>
<text font-size="7.85" fill="#262626" stroke="#262626" stroke-width="0.2" text-anchor="middle" transform="translate(317 184.65) scale(1 1.1)">100</text>
<polyline points="259.3,138.35 262.19,136.93 265.07,138.35 288.15,136.93 317,136.58" fill="none" stroke="#7e7e7e" stroke-width="0.6"/>
<line x1="288.15" y1="133.74" x2="288.15" y2="140.12" stroke="#8a8a8a" stroke-width="0.6"/>
<line x1="287.25" y1="133.74" x2="289.05" y2="133.74" stroke="#8a8a8a" stroke-width="0.6"/>
<line x1="287.25" y1="140.12" x2="289.05" y2="140.12" stroke="#8a8a8a" stroke-width="0.6"/>
<rect x="258.45" y="137.5" width="1.7" height="1.7" fill="#505050"/>
<rect x="261.33" y="136.08" width="1.7" height="1.7" fill="#505050"/>
<rect x="264.22" y="137.5" width="1.7" height="1.7" fill="#505050"/>
<rect x="287.3" y="136.08" width="1.7" height="1.7" fill="#505050"/>
<rect x="316.15" y="135.73" width="1.7" height="1.7" fill="#505050"/>
<polyline points="259.3,138.7 259.88,139.05 262.19,139.41 265.07,139.41 288.15,144.86 317,146.13" fill="none" stroke="#cc3a44" stroke-width="0.6"/>
<rect x="258.05" y="137.45" width="2.5" height="2.5" fill="#b01820"/>
<rect x="258.63" y="137.8" width="2.5" height="2.5" fill="#b01820"/>
<rect x="260.94" y="138.16" width="2.5" height="2.5" fill="#b01820"/>
<rect x="263.82" y="138.16" width="2.5" height="2.5" fill="#b01820"/>
<rect x="286.9" y="143.61" width="2.5" height="2.5" fill="#b01820"/>
<rect x="315.75" y="144.88" width="2.5" height="2.5" fill="#b01820"/>
<text font-size="5.7" fill="#333333" stroke="#333333" stroke-width="0.14" text-anchor="end" transform="translate(327.4 156.6) scale(1 1.15)">IC50</text>
<text font-size="5.7" fill="#c8303c" stroke="#c8303c" stroke-width="0.22" text-anchor="end" transform="translate(328.9 163.7) scale(1 1.15)">hIEC:&gt; 100 µM</text>
<text font-size="5.7" fill="#7a7a7a" stroke="#7a7a7a" stroke-width="0.14" text-anchor="end" transform="translate(328.9 170.6) scale(1 1.15)">Caco-2:&gt; 100 µM</text>
<text font-size="10.35" fill="#1e1e1e" stroke="#1e1e1e" stroke-width="0.08" text-anchor="middle" transform="translate(378.75 114.2) scale(1 0.95)">Cyclophosphamide</text>
<rect x="348.5" y="121" width="2" height="53.5" fill="#999999"/>
<line x1="349" y1="174.5" x2="408" y2="174.5" stroke="#333333" stroke-width="1"/>
<line x1="347.4" y1="174.5" x2="349.5" y2="174.5" stroke="#333333" stroke-width="1"/>
<text font-size="7.85" fill="#262626" stroke="#262626" stroke-width="0.2" text-anchor="end" transform="translate(346.7 176.81) scale(1 1.1)">0</text>
<line x1="347.4" y1="156.5" x2="349.5" y2="156.5" stroke="#333333" stroke-width="1"/>
<text font-size="7.85" fill="#262626" stroke="#262626" stroke-width="0.2" text-anchor="end" transform="translate(346.7 159.11) scale(1 1.1)">50</text>
<line x1="347.4" y1="138.5" x2="349.5" y2="138.5" stroke="#333333" stroke-width="1"/>
<text font-size="7.85" fill="#262626" stroke="#262626" stroke-width="0.2" text-anchor="end" transform="translate(346.7 141.41) scale(1 1.1)">100</text>
<line x1="347.4" y1="121.5" x2="349.5" y2="121.5" stroke="#333333" stroke-width="1"/>
<text font-size="7.85" fill="#262626" stroke="#262626" stroke-width="0.2" text-anchor="end" transform="translate(346.7 123.71) scale(1 1.1)">150</text>
<line x1="349.5" y1="174.5" x2="349.5" y2="176.6" stroke="#333333" stroke-width="1"/>
<text font-size="7.85" fill="#262626" stroke="#262626" stroke-width="0.2" text-anchor="middle" transform="translate(349.7 184.65) scale(1 1.1)">0</text>
<line x1="378.5" y1="174.5" x2="378.5" y2="176.6" stroke="#333333" stroke-width="1"/>
<text font-size="7.85" fill="#262626" stroke="#262626" stroke-width="0.2" text-anchor="middle" transform="translate(378.75 184.65) scale(1 1.1)">50</text>
<line x1="407.5" y1="174.5" x2="407.5" y2="176.6" stroke="#333333" stroke-width="1"/>
<text font-size="7.85" fill="#262626" stroke="#262626" stroke-width="0.2" text-anchor="middle" transform="translate(407.8 184.65) scale(1 1.1)">100</text>
<polyline points="349.7,136.22 352.61,137.64 355.51,140.47 378.75,139.05 407.8,134.1" fill="none" stroke="#7e7e7e" stroke-width="0.6"/>
<line x1="407.8" y1="131.27" x2="407.8" y2="136.93" stroke="#8a8a8a" stroke-width="0.6"/>
<line x1="406.9" y1="131.27" x2="408.7" y2="131.27" stroke="#8a8a8a" stroke-width="0.6"/>
<line x1="406.9" y1="136.93" x2="408.7" y2="136.93" stroke="#8a8a8a" stroke-width="0.6"/>
<line x1="378.75" y1="137.64" x2="378.75" y2="140.47" stroke="#8a8a8a" stroke-width="0.6"/>
<line x1="377.85" y1="137.64" x2="379.65" y2="137.64" stroke="#8a8a8a" stroke-width="0.6"/>
<line x1="377.85" y1="140.47" x2="379.65" y2="140.47" stroke="#8a8a8a" stroke-width="0.6"/>
<rect x="348.85" y="135.37" width="1.7" height="1.7" fill="#505050"/>
<rect x="351.75" y="136.79" width="1.7" height="1.7" fill="#505050"/>
<rect x="354.66" y="139.62" width="1.7" height="1.7" fill="#505050"/>
<rect x="377.9" y="138.2" width="1.7" height="1.7" fill="#505050"/>
<rect x="406.95" y="133.25" width="1.7" height="1.7" fill="#505050"/>
<polyline points="349.7,138.35 350.28,137.28 352.61,139.76 355.51,140.47 378.75,145.43 407.8,149.67" fill="none" stroke="#cc3a44" stroke-width="0.6"/>
<rect x="348.45" y="137.1" width="2.5" height="2.5" fill="#b01820"/>
<rect x="349.03" y="136.03" width="2.5" height="2.5" fill="#b01820"/>
<rect x="351.36" y="138.51" width="2.5" height="2.5" fill="#b01820"/>
<rect x="354.26" y="139.22" width="2.5" height="2.5" fill="#b01820"/>
<rect x="377.5" y="144.18" width="2.5" height="2.5" fill="#b01820"/>
<rect x="406.55" y="148.42" width="2.5" height="2.5" fill="#b01820"/>
<text font-size="5.7" fill="#333333" stroke="#333333" stroke-width="0.14" text-anchor="end" transform="translate(413.5 156.6) scale(1 1.15)">IC50</text>
<text font-size="5.7" fill="#c8303c" stroke="#c8303c" stroke-width="0.22" text-anchor="end" transform="translate(415 163.7) scale(1 1.15)">hIEC:&gt; 100 µM</text>
<text font-size="5.7" fill="#7a7a7a" stroke="#7a7a7a" stroke-width="0.14" text-anchor="end" transform="translate(415 170.6) scale(1 1.15)">Caco-2:&gt; 100 µM</text>
<text font-size="10.35" fill="#1e1e1e" stroke="#1e1e1e" stroke-width="0.08" text-anchor="middle" transform="translate(469.55 114.2) scale(1 0.95)">Cisplatin</text>
<line x1="449.8" y1="121" x2="449.8" y2="174.1" stroke="#d84a58" stroke-width="0.8" stroke-dasharray="0.7,0.6"/>
<line x1="461.42" y1="121" x2="461.42" y2="174.1" stroke="#9a9a9a" stroke-width="0.75" stroke-dasharray="0.7,0.6"/>
<line x1="440.5" y1="121" x2="440.5" y2="175" stroke="#333333" stroke-width="1"/>
<line x1="440" y1="174.5" x2="499" y2="174.5" stroke="#333333" stroke-width="1"/>
<line x1="438.4" y1="174.5" x2="440.5" y2="174.5" stroke="#333333" stroke-width="1"/>
<text font-size="7.85" fill="#262626" stroke="#262626" stroke-width="0.2" text-anchor="end" transform="translate(437.5 176.81) scale(1 1.1)">0</text>
<line x1="438.4" y1="156.5" x2="440.5" y2="156.5" stroke="#333333" stroke-width="1"/>
<text font-size="7.85" fill="#262626" stroke="#262626" stroke-width="0.2" text-anchor="end" transform="translate(437.5 159.11) scale(1 1.1)">50</text>
<line x1="438.4" y1="138.5" x2="440.5" y2="138.5" stroke="#333333" stroke-width="1"/>
<text font-size="7.85" fill="#262626" stroke="#262626" stroke-width="0.2" text-anchor="end" transform="translate(437.5 141.41) scale(1 1.1)">100</text>
<line x1="438.4" y1="121.5" x2="440.5" y2="121.5" stroke="#333333" stroke-width="1"/>
<text font-size="7.85" fill="#262626" stroke="#262626" stroke-width="0.2" text-anchor="end" transform="translate(437.5 123.71) scale(1 1.1)">150</text>
<line x1="440.5" y1="174.5" x2="440.5" y2="176.6" stroke="#333333" stroke-width="1"/>
<text font-size="7.85" fill="#262626" stroke="#262626" stroke-width="0.2" text-anchor="middle" transform="translate(440.5 184.65) scale(1 1.1)">0</text>
<line x1="469.5" y1="174.5" x2="469.5" y2="176.6" stroke="#333333" stroke-width="1"/>
<text font-size="7.85" fill="#262626" stroke="#262626" stroke-width="0.2" text-anchor="middle" transform="translate(469.55 184.65) scale(1 1.1)">50</text>
<line x1="498.5" y1="174.5" x2="498.5" y2="176.6" stroke="#333333" stroke-width="1"/>
<text font-size="7.85" fill="#262626" stroke="#262626" stroke-width="0.2" text-anchor="middle" transform="translate(498.6 184.65) scale(1 1.1)">100</text>
<polyline points="440.5,138.7 443.4,139.76 446.31,142.24 469.55,157.46 498.6,168.44" fill="none" stroke="#7e7e7e" stroke-width="0.6"/>
<line x1="469.55" y1="154.98" x2="469.55" y2="159.94" stroke="#8a8a8a" stroke-width="0.6"/>
<line x1="468.65" y1="154.98" x2="470.45" y2="154.98" stroke="#8a8a8a" stroke-width="0.6"/>
<line x1="468.65" y1="159.94" x2="470.45" y2="159.94" stroke="#8a8a8a" stroke-width="0.6"/>
<rect x="439.65" y="137.85" width="1.7" height="1.7" fill="#505050"/>
<rect x="442.55" y="138.91" width="1.7" height="1.7" fill="#505050"/>
<rect x="445.46" y="141.39" width="1.7" height="1.7" fill="#505050"/>
<rect x="468.7" y="156.61" width="1.7" height="1.7" fill="#505050"/>
<rect x="497.75" y="167.59" width="1.7" height="1.7" fill="#505050"/>
<polyline points="440.5,138.7 441.08,147.66 443.4,149.67 446.31,150.38 469.55,166.31 498.6,166.49" fill="none" stroke="#cc3a44" stroke-width="0.6"/>
<rect x="439.25" y="137.45" width="2.5" height="2.5" fill="#b01820"/>
<rect x="439.83" y="146.41" width="2.5" height="2.5" fill="#b01820"/>
<rect x="442.15" y="148.42" width="2.5" height="2.5" fill="#b01820"/>
<rect x="445.06" y="149.13" width="2.5" height="2.5" fill="#b01820"/>
<rect x="468.3" y="165.06" width="2.5" height="2.5" fill="#b01820"/>
<rect x="497.35" y="165.24" width="2.5" height="2.5" fill="#b01820"/>
<text font-size="5.7" fill="#333333" stroke="#333333" stroke-width="0.14" text-anchor="end" transform="translate(505.8 125.7) scale(1 1.15)">IC50</text>
<text font-size="5.7" fill="#c8303c" stroke="#c8303c" stroke-width="0.22" text-anchor="end" transform="translate(507.3 132.5) scale(1 1.15)">hIEC:  14.8 µM</text>
<text font-size="5.7" fill="#7a7a7a" stroke="#7a7a7a" stroke-width="0.14" text-anchor="end" transform="translate(507.3 139.9) scale(1 1.15)">Caco-2:  40.3 µM</text>
<text font-size="10.35" fill="#1e1e1e" stroke="#1e1e1e" stroke-width="0.08" text-anchor="middle" transform="translate(558.95 114.2) scale(1 0.95)">5-FU</text>
<line x1="530.5" y1="121" x2="530.5" y2="175" stroke="#333333" stroke-width="1"/>
<line x1="530" y1="174.5" x2="588" y2="174.5" stroke="#333333" stroke-width="1"/>
<line x1="528.4" y1="174.5" x2="530.5" y2="174.5" stroke="#333333" stroke-width="1"/>
<text font-size="7.85" fill="#262626" stroke="#262626" stroke-width="0.2" text-anchor="end" transform="translate(527.1 176.81) scale(1 1.1)">0</text>
<line x1="528.4" y1="156.5" x2="530.5" y2="156.5" stroke="#333333" stroke-width="1"/>
<text font-size="7.85" fill="#262626" stroke="#262626" stroke-width="0.2" text-anchor="end" transform="translate(527.1 159.11) scale(1 1.1)">50</text>
<line x1="528.4" y1="138.5" x2="530.5" y2="138.5" stroke="#333333" stroke-width="1"/>
<text font-size="7.85" fill="#262626" stroke="#262626" stroke-width="0.2" text-anchor="end" transform="translate(527.1 141.41) scale(1 1.1)">100</text>
<line x1="528.4" y1="121.5" x2="530.5" y2="121.5" stroke="#333333" stroke-width="1"/>
<text font-size="7.85" fill="#262626" stroke="#262626" stroke-width="0.2" text-anchor="end" transform="translate(527.1 123.71) scale(1 1.1)">150</text>
<line x1="530.5" y1="174.5" x2="530.5" y2="176.6" stroke="#333333" stroke-width="1"/>
<text font-size="7.85" fill="#262626" stroke="#262626" stroke-width="0.2" text-anchor="middle" transform="translate(530.1 184.65) scale(1 1.1)">0</text>
<line x1="558.5" y1="174.5" x2="558.5" y2="176.6" stroke="#333333" stroke-width="1"/>
<text font-size="7.85" fill="#262626" stroke="#262626" stroke-width="0.2" text-anchor="middle" transform="translate(558.95 184.65) scale(1 1.1)">50</text>
<line x1="587.5" y1="174.5" x2="587.5" y2="176.6" stroke="#333333" stroke-width="1"/>
<text font-size="7.85" fill="#262626" stroke="#262626" stroke-width="0.2" text-anchor="middle" transform="translate(587.8 184.65) scale(1 1.1)">100</text>
<polyline points="530.1,137.99 532.99,134.45 535.87,135.51 558.95,139.76 587.8,146.49" fill="none" stroke="#7e7e7e" stroke-width="0.6"/>
<rect x="529.25" y="137.14" width="1.7" height="1.7" fill="#505050"/>
<rect x="532.13" y="133.6" width="1.7" height="1.7" fill="#505050"/>
<rect x="535.02" y="134.66" width="1.7" height="1.7" fill="#505050"/>
<rect x="558.1" y="138.91" width="1.7" height="1.7" fill="#505050"/>
<rect x="586.95" y="145.64" width="1.7" height="1.7" fill="#505050"/>
<polyline points="530.1,138.7 530.68,136.93 532.99,133.81 535.87,135.16 558.95,140.12 587.8,146.84" fill="none" stroke="#cc3a44" stroke-width="0.6"/>
<line x1="532.99" y1="131.34" x2="532.99" y2="136.29" stroke="#999999" stroke-width="0.6"/>
<line x1="532.09" y1="131.34" x2="533.88" y2="131.34" stroke="#999999" stroke-width="0.6"/>
<line x1="532.09" y1="136.29" x2="533.88" y2="136.29" stroke="#999999" stroke-width="0.6"/>
<line x1="535.87" y1="131.62" x2="535.87" y2="138.7" stroke="#999999" stroke-width="0.6"/>
<line x1="534.97" y1="131.62" x2="536.77" y2="131.62" stroke="#999999" stroke-width="0.6"/>
<line x1="534.97" y1="138.7" x2="536.77" y2="138.7" stroke="#999999" stroke-width="0.6"/>
<line x1="558.95" y1="134.81" x2="558.95" y2="145.43" stroke="#999999" stroke-width="0.6"/>
<line x1="558.05" y1="134.81" x2="559.85" y2="134.81" stroke="#999999" stroke-width="0.6"/>
<line x1="558.05" y1="145.43" x2="559.85" y2="145.43" stroke="#999999" stroke-width="0.6"/>
<line x1="587.8" y1="142.95" x2="587.8" y2="150.74" stroke="#999999" stroke-width="0.6"/>
<line x1="586.9" y1="142.95" x2="588.7" y2="142.95" stroke="#999999" stroke-width="0.6"/>
<line x1="586.9" y1="150.74" x2="588.7" y2="150.74" stroke="#999999" stroke-width="0.6"/>
<rect x="528.85" y="137.45" width="2.5" height="2.5" fill="#b01820"/>
<rect x="529.43" y="135.68" width="2.5" height="2.5" fill="#b01820"/>
<rect x="531.74" y="132.56" width="2.5" height="2.5" fill="#b01820"/>
<rect x="534.62" y="133.91" width="2.5" height="2.5" fill="#b01820"/>
<rect x="557.7" y="138.87" width="2.5" height="2.5" fill="#b01820"/>
<rect x="586.55" y="145.59" width="2.5" height="2.5" fill="#b01820"/>
<text font-size="5.7" fill="#333333" stroke="#333333" stroke-width="0.14" text-anchor="end" transform="translate(593.5 156.6) scale(1 1.15)">IC50</text>
<text font-size="5.7" fill="#c8303c" stroke="#c8303c" stroke-width="0.22" text-anchor="end" transform="translate(595 163.7) scale(1 1.15)">hIEC:  &gt; 100 µM</text>
<text font-size="5.7" fill="#7a7a7a" stroke="#7a7a7a" stroke-width="0.14" text-anchor="end" transform="translate(595 170.6) scale(1 1.15)">Caco-2:  &gt; 100 µM</text>
<text font-size="10.35" fill="#1e1e1e" stroke="#1e1e1e" stroke-width="0.08" text-anchor="middle" transform="translate(646.65 114.2) scale(1 0.95)">Doxorubicin</text>
<line x1="628.47" y1="121" x2="628.47" y2="174.1" stroke="#d84a58" stroke-width="0.8" stroke-dasharray="0.7,0.6"/>
<line x1="640.3" y1="121" x2="640.3" y2="174.1" stroke="#9a9a9a" stroke-width="0.75" stroke-dasharray="0.7,0.6"/>
<line x1="617.5" y1="121" x2="617.5" y2="175" stroke="#333333" stroke-width="1"/>
<line x1="617" y1="174.5" x2="676" y2="174.5" stroke="#333333" stroke-width="1"/>
<line x1="615.4" y1="174.5" x2="617.5" y2="174.5" stroke="#333333" stroke-width="1"/>
<text font-size="7.85" fill="#262626" stroke="#262626" stroke-width="0.2" text-anchor="end" transform="translate(614.8 176.81) scale(1 1.1)">0</text>
<line x1="615.4" y1="156.5" x2="617.5" y2="156.5" stroke="#333333" stroke-width="1"/>
<text font-size="7.85" fill="#262626" stroke="#262626" stroke-width="0.2" text-anchor="end" transform="translate(614.8 159.11) scale(1 1.1)">50</text>
<line x1="615.4" y1="138.5" x2="617.5" y2="138.5" stroke="#333333" stroke-width="1"/>
<text font-size="7.85" fill="#262626" stroke="#262626" stroke-width="0.2" text-anchor="end" transform="translate(614.8 141.41) scale(1 1.1)">100</text>
<line x1="615.4" y1="121.5" x2="617.5" y2="121.5" stroke="#333333" stroke-width="1"/>
<text font-size="7.85" fill="#262626" stroke="#262626" stroke-width="0.2" text-anchor="end" transform="translate(614.8 123.71) scale(1 1.1)">150</text>
<line x1="617.5" y1="174.5" x2="617.5" y2="176.6" stroke="#333333" stroke-width="1"/>
<text font-size="7.85" fill="#262626" stroke="#262626" stroke-width="0.2" text-anchor="middle" transform="translate(617.8 184.65) scale(1 1.1)">0</text>
<line x1="646.5" y1="174.5" x2="646.5" y2="176.6" stroke="#333333" stroke-width="1"/>
<text font-size="7.85" fill="#262626" stroke="#262626" stroke-width="0.2" text-anchor="middle" transform="translate(646.65 184.65) scale(1 1.1)">50</text>
<line x1="675.5" y1="174.5" x2="675.5" y2="176.6" stroke="#333333" stroke-width="1"/>
<text font-size="7.85" fill="#262626" stroke="#262626" stroke-width="0.2" text-anchor="middle" transform="translate(675.5 184.65) scale(1 1.1)">100</text>
<polyline points="617.8,138.35 618.38,142.24 620.68,148.61 623.57,150.38 646.65,155.34 675.5,159.23" fill="none" stroke="#7e7e7e" stroke-width="0.6"/>
<rect x="616.95" y="137.5" width="1.7" height="1.7" fill="#505050"/>
<rect x="617.53" y="141.39" width="1.7" height="1.7" fill="#505050"/>
<rect x="619.83" y="147.76" width="1.7" height="1.7" fill="#505050"/>
<rect x="622.72" y="149.53" width="1.7" height="1.7" fill="#505050"/>
<rect x="645.8" y="154.49" width="1.7" height="1.7" fill="#505050"/>
<rect x="674.65" y="158.38" width="1.7" height="1.7" fill="#505050"/>
<polyline points="617.8,138.7 617.92,156.75 620.68,163.83 623.57,163.83 646.65,165.96 675.5,165.78" fill="none" stroke="#cc3a44" stroke-width="0.6"/>
<rect x="616.55" y="137.45" width="2.5" height="2.5" fill="#b01820"/>
<rect x="616.67" y="155.5" width="2.5" height="2.5" fill="#b01820"/>
<rect x="619.43" y="162.58" width="2.5" height="2.5" fill="#b01820"/>
<rect x="622.32" y="162.58" width="2.5" height="2.5" fill="#b01820"/>
<rect x="645.4" y="164.71" width="2.5" height="2.5" fill="#b01820"/>
<rect x="674.25" y="164.53" width="2.5" height="2.5" fill="#b01820"/>
<text font-size="5.7" fill="#333333" stroke="#333333" stroke-width="0.14" text-anchor="end" transform="translate(682.4 125.7) scale(1 1.15)">IC50</text>
<text font-size="5.7" fill="#c8303c" stroke="#c8303c" stroke-width="0.22" text-anchor="end" transform="translate(683.9 132.5) scale(1 1.15)">hIEC:   1.6 µM</text>
<text font-size="5.7" fill="#7a7a7a" stroke="#7a7a7a" stroke-width="0.14" text-anchor="end" transform="translate(683.9 139.9) scale(1 1.15)">Caco-2: 42.0 µM</text>
<text font-size="10.35" fill="#1e1e1e" stroke="#1e1e1e" stroke-width="0.08" text-anchor="middle" transform="translate(104.35 231.5) scale(1 0.95)">Gefitinib</text>
<line x1="86.69" y1="237.8" x2="86.69" y2="290.4" stroke="#d84a58" stroke-width="0.8" stroke-dasharray="0.7,0.6"/>
<line x1="83.43" y1="237.8" x2="83.43" y2="290.4" stroke="#9a9a9a" stroke-width="0.75" stroke-dasharray="0.7,0.6"/>
<line x1="75.5" y1="237" x2="75.5" y2="291" stroke="#333333" stroke-width="1"/>
<line x1="75" y1="290.5" x2="134" y2="290.5" stroke="#333333" stroke-width="1"/>
<line x1="73.4" y1="290.5" x2="75.5" y2="290.5" stroke="#333333" stroke-width="1"/>
<text font-size="7.85" fill="#262626" stroke="#262626" stroke-width="0.2" text-anchor="end" transform="translate(72.3 293.11) scale(1 1.1)">0</text>
<line x1="73.4" y1="272.5" x2="75.5" y2="272.5" stroke="#333333" stroke-width="1"/>
<text font-size="7.85" fill="#262626" stroke="#262626" stroke-width="0.2" text-anchor="end" transform="translate(72.3 275.58) scale(1 1.1)">50</text>
<line x1="73.4" y1="255.5" x2="75.5" y2="255.5" stroke="#333333" stroke-width="1"/>
<text font-size="7.85" fill="#262626" stroke="#262626" stroke-width="0.2" text-anchor="end" transform="translate(72.3 258.04) scale(1 1.1)">100</text>
<line x1="73.4" y1="237.5" x2="75.5" y2="237.5" stroke="#333333" stroke-width="1"/>
<text font-size="7.85" fill="#262626" stroke="#262626" stroke-width="0.2" text-anchor="end" transform="translate(72.3 240.51) scale(1 1.1)">150</text>
<line x1="75.5" y1="290.5" x2="75.5" y2="292.6" stroke="#333333" stroke-width="1"/>
<text font-size="7.85" fill="#262626" stroke="#262626" stroke-width="0.2" text-anchor="middle" transform="translate(75.3 300.95) scale(1 1.1)">0</text>
<line x1="104.5" y1="290.5" x2="104.5" y2="292.6" stroke="#333333" stroke-width="1"/>
<text font-size="7.85" fill="#262626" stroke="#262626" stroke-width="0.2" text-anchor="middle" transform="translate(104.35 300.95) scale(1 1.1)">50</text>
<line x1="133.5" y1="290.5" x2="133.5" y2="292.6" stroke="#333333" stroke-width="1"/>
<text font-size="7.85" fill="#262626" stroke="#262626" stroke-width="0.2" text-anchor="middle" transform="translate(133.4 300.95) scale(1 1.1)">100</text>
<polyline points="75.3,255.33 75.88,257.09 78.2,263.05 81.11,267.78 104.35,287 133.4,290.19" fill="none" stroke="#7e7e7e" stroke-width="0.6"/>
<rect x="74.45" y="254.48" width="1.7" height="1.7" fill="#505050"/>
<rect x="75.03" y="256.24" width="1.7" height="1.7" fill="#505050"/>
<rect x="77.36" y="262.2" width="1.7" height="1.7" fill="#505050"/>
<rect x="80.26" y="266.93" width="1.7" height="1.7" fill="#505050"/>
<rect x="103.5" y="286.15" width="1.7" height="1.7" fill="#505050"/>
<rect x="132.55" y="289.34" width="1.7" height="1.7" fill="#505050"/>
<polyline points="75.3,255.33 75.88,250.91 78.2,262 81.11,266.69 104.35,279.39 133.4,286.54" fill="none" stroke="#cc3a44" stroke-width="0.6"/>
<line x1="75.88" y1="246.71" x2="75.88" y2="255.12" stroke="#c85058" stroke-width="0.6"/>
<line x1="74.98" y1="246.71" x2="76.78" y2="246.71" stroke="#c85058" stroke-width="0.6"/>
<line x1="74.98" y1="255.12" x2="76.78" y2="255.12" stroke="#c85058" stroke-width="0.6"/>
<line x1="78.2" y1="259.19" x2="78.2" y2="264.8" stroke="#c85058" stroke-width="0.6"/>
<line x1="77.3" y1="259.19" x2="79.11" y2="259.19" stroke="#c85058" stroke-width="0.6"/>
<line x1="77.3" y1="264.8" x2="79.11" y2="264.8" stroke="#c85058" stroke-width="0.6"/>
<rect x="74.05" y="254.08" width="2.5" height="2.5" fill="#b01820"/>
<rect x="74.63" y="249.66" width="2.5" height="2.5" fill="#b01820"/>
<rect x="76.95" y="260.75" width="2.5" height="2.5" fill="#b01820"/>
<rect x="79.86" y="265.44" width="2.5" height="2.5" fill="#b01820"/>
<rect x="103.1" y="278.14" width="2.5" height="2.5" fill="#b01820"/>
<rect x="132.15" y="285.29" width="2.5" height="2.5" fill="#b01820"/>
<text font-size="5.7" fill="#333333" stroke="#333333" stroke-width="0.14" text-anchor="end" transform="translate(141.9 242.4) scale(1 1.15)">IC50</text>
<text font-size="5.7" fill="#c8303c" stroke="#c8303c" stroke-width="0.22" text-anchor="end" transform="translate(143.4 249.7) scale(1 1.15)">hIEC:  21.5 µM</text>
<text font-size="5.7" fill="#7a7a7a" stroke="#7a7a7a" stroke-width="0.14" text-anchor="end" transform="translate(143.4 256.3) scale(1 1.15)">Caco-2:  13.7 µM</text>
<text font-size="10.35" fill="#1e1e1e" stroke="#1e1e1e" stroke-width="0.08" text-anchor="middle" transform="translate(197 231.5) scale(1 0.95)">Crizotinib</text>
<line x1="184.33" y1="237.8" x2="184.33" y2="290.4" stroke="#d84a58" stroke-width="0.8" stroke-dasharray="0.7,0.6"/>
<line x1="183.75" y1="237.8" x2="183.75" y2="290.4" stroke="#9a9a9a" stroke-width="0.75" stroke-dasharray="0.7,0.6"/>
<line x1="168.5" y1="237" x2="168.5" y2="291" stroke="#333333" stroke-width="1"/>
<line x1="168" y1="290.5" x2="226" y2="290.5" stroke="#333333" stroke-width="1"/>
<line x1="166.4" y1="290.5" x2="168.5" y2="290.5" stroke="#333333" stroke-width="1"/>
<text font-size="7.85" fill="#262626" stroke="#262626" stroke-width="0.2" text-anchor="end" transform="translate(165.2 293.11) scale(1 1.1)">0</text>
<line x1="166.4" y1="272.5" x2="168.5" y2="272.5" stroke="#333333" stroke-width="1"/>
<text font-size="7.85" fill="#262626" stroke="#262626" stroke-width="0.2" text-anchor="end" transform="translate(165.2 275.58) scale(1 1.1)">50</text>
<line x1="166.4" y1="255.5" x2="168.5" y2="255.5" stroke="#333333" stroke-width="1"/>
<text font-size="7.85" fill="#262626" stroke="#262626" stroke-width="0.2" text-anchor="end" transform="translate(165.2 258.04) scale(1 1.1)">100</text>
<line x1="166.4" y1="237.5" x2="168.5" y2="237.5" stroke="#333333" stroke-width="1"/>
<text font-size="7.85" fill="#262626" stroke="#262626" stroke-width="0.2" text-anchor="end" transform="translate(165.2 240.51) scale(1 1.1)">150</text>
<line x1="168.5" y1="290.5" x2="168.5" y2="292.6" stroke="#333333" stroke-width="1"/>
<text font-size="7.85" fill="#262626" stroke="#262626" stroke-width="0.2" text-anchor="middle" transform="translate(168.2 300.95) scale(1 1.1)">0</text>
<line x1="197.5" y1="290.5" x2="197.5" y2="292.6" stroke="#333333" stroke-width="1"/>
<text font-size="7.85" fill="#262626" stroke="#262626" stroke-width="0.2" text-anchor="middle" transform="translate(197 300.95) scale(1 1.1)">50</text>
<line x1="225.5" y1="290.5" x2="225.5" y2="292.6" stroke="#333333" stroke-width="1"/>
<text font-size="7.85" fill="#262626" stroke="#262626" stroke-width="0.2" text-anchor="middle" transform="translate(225.8 300.95) scale(1 1.1)">100</text>
<polyline points="168.2,255.33 168.78,253.23 173.96,251.83 197,290.4 225.8,290.4" fill="none" stroke="#7e7e7e" stroke-width="0.6"/>
<line x1="168.78" y1="248.32" x2="168.78" y2="258.14" stroke="#8a8a8a" stroke-width="0.6"/>
<line x1="167.88" y1="248.32" x2="169.68" y2="248.32" stroke="#8a8a8a" stroke-width="0.6"/>
<line x1="167.88" y1="258.14" x2="169.68" y2="258.14" stroke="#8a8a8a" stroke-width="0.6"/>
<line x1="173.96" y1="246.22" x2="173.96" y2="257.44" stroke="#8a8a8a" stroke-width="0.6"/>
<line x1="173.06" y1="246.22" x2="174.86" y2="246.22" stroke="#8a8a8a" stroke-width="0.6"/>
<line x1="173.06" y1="257.44" x2="174.86" y2="257.44" stroke="#8a8a8a" stroke-width="0.6"/>
<rect x="167.35" y="254.48" width="1.7" height="1.7" fill="#505050"/>
<rect x="167.93" y="252.38" width="1.7" height="1.7" fill="#505050"/>
<rect x="173.11" y="250.98" width="1.7" height="1.7" fill="#505050"/>
<rect x="196.15" y="289.55" width="1.7" height="1.7" fill="#505050"/>
<rect x="224.95" y="289.55" width="1.7" height="1.7" fill="#505050"/>
<polyline points="168.2,255.33 168.78,253.93 171.08,254.98 173.96,260.7 197,282.79 225.8,286.54" fill="none" stroke="#cc3a44" stroke-width="0.6"/>
<line x1="173.96" y1="258.59" x2="173.96" y2="262.8" stroke="#c85058" stroke-width="0.6"/>
<line x1="173.06" y1="258.59" x2="174.86" y2="258.59" stroke="#c85058" stroke-width="0.6"/>
<line x1="173.06" y1="262.8" x2="174.86" y2="262.8" stroke="#c85058" stroke-width="0.6"/>
<rect x="166.95" y="254.08" width="2.5" height="2.5" fill="#b01820"/>
<rect x="167.53" y="252.68" width="2.5" height="2.5" fill="#b01820"/>
<rect x="169.83" y="253.73" width="2.5" height="2.5" fill="#b01820"/>
<rect x="172.71" y="259.45" width="2.5" height="2.5" fill="#b01820"/>
<rect x="195.75" y="281.54" width="2.5" height="2.5" fill="#b01820"/>
<rect x="224.55" y="285.29" width="2.5" height="2.5" fill="#b01820"/>
<text font-size="5.7" fill="#333333" stroke="#333333" stroke-width="0.14" text-anchor="end" transform="translate(234.2 242.4) scale(1 1.15)">IC50</text>
<text font-size="5.7" fill="#c8303c" stroke="#c8303c" stroke-width="0.22" text-anchor="end" transform="translate(235.7 249.7) scale(1 1.15)">hIEC:  27.3 µM</text>
<text font-size="5.7" fill="#7a7a7a" stroke="#7a7a7a" stroke-width="0.14" text-anchor="end" transform="translate(235.7 256.3) scale(1 1.15)">Caco-2:  26.3 µM</text>
<text font-size="10.35" fill="#1e1e1e" stroke="#1e1e1e" stroke-width="0.08" text-anchor="middle" transform="translate(287 231.5) scale(1 0.95)">Sunitinib</text>
<line x1="266.09" y1="237.8" x2="266.09" y2="290.4" stroke="#d84a58" stroke-width="0.8" stroke-dasharray="0.7,0.6"/>
<line x1="278.94" y1="237.8" x2="278.94" y2="290.4" stroke="#9a9a9a" stroke-width="0.75" stroke-dasharray="0.7,0.6"/>
<line x1="258.5" y1="237" x2="258.5" y2="291" stroke="#333333" stroke-width="1"/>
<line x1="258" y1="290.5" x2="316" y2="290.5" stroke="#333333" stroke-width="1"/>
<line x1="256.4" y1="290.5" x2="258.5" y2="290.5" stroke="#333333" stroke-width="1"/>
<text font-size="7.85" fill="#262626" stroke="#262626" stroke-width="0.2" text-anchor="end" transform="translate(255.2 293.11) scale(1 1.1)">0</text>
<line x1="256.4" y1="272.5" x2="258.5" y2="272.5" stroke="#333333" stroke-width="1"/>
<text font-size="7.85" fill="#262626" stroke="#262626" stroke-width="0.2" text-anchor="end" transform="translate(255.2 275.58) scale(1 1.1)">50</text>
<line x1="256.4" y1="255.5" x2="258.5" y2="255.5" stroke="#333333" stroke-width="1"/>
<text font-size="7.85" fill="#262626" stroke="#262626" stroke-width="0.2" text-anchor="end" transform="translate(255.2 258.04) scale(1 1.1)">100</text>
<line x1="256.4" y1="237.5" x2="258.5" y2="237.5" stroke="#333333" stroke-width="1"/>
<text font-size="7.85" fill="#262626" stroke="#262626" stroke-width="0.2" text-anchor="end" transform="translate(255.2 240.51) scale(1 1.1)">150</text>
<line x1="258.5" y1="290.5" x2="258.5" y2="292.6" stroke="#333333" stroke-width="1"/>
<text font-size="7.85" fill="#262626" stroke="#262626" stroke-width="0.2" text-anchor="middle" transform="translate(258.2 300.95) scale(1 1.1)">0</text>
<line x1="287.5" y1="290.5" x2="287.5" y2="292.6" stroke="#333333" stroke-width="1"/>
<text font-size="7.85" fill="#262626" stroke="#262626" stroke-width="0.2" text-anchor="middle" transform="translate(287 300.95) scale(1 1.1)">50</text>
<line x1="315.5" y1="290.5" x2="315.5" y2="292.6" stroke="#333333" stroke-width="1"/>
<text font-size="7.85" fill="#262626" stroke="#262626" stroke-width="0.2" text-anchor="middle" transform="translate(315.8 300.95) scale(1 1.1)">100</text>
<polyline points="258.2,254.28 261.08,255.68 263.96,256.74 287,271.81 315.8,288.3" fill="none" stroke="#7e7e7e" stroke-width="0.6"/>
<rect x="257.35" y="253.43" width="1.7" height="1.7" fill="#505050"/>
<rect x="260.23" y="254.83" width="1.7" height="1.7" fill="#505050"/>
<rect x="263.11" y="255.89" width="1.7" height="1.7" fill="#505050"/>
<rect x="286.15" y="270.96" width="1.7" height="1.7" fill="#505050"/>
<rect x="314.95" y="287.45" width="1.7" height="1.7" fill="#505050"/>
<polyline points="258.2,255.33 258.78,258.84 261.08,257.09 263.96,260.7 287,285.74 315.8,289.35" fill="none" stroke="#cc3a44" stroke-width="0.6"/>
<line x1="258.78" y1="250.07" x2="258.78" y2="267.61" stroke="#d87880" stroke-width="0.6"/>
<line x1="257.88" y1="250.07" x2="259.68" y2="250.07" stroke="#d87880" stroke-width="0.6"/>
<line x1="257.88" y1="267.61" x2="259.68" y2="267.61" stroke="#d87880" stroke-width="0.6"/>
<line x1="261.08" y1="249.37" x2="261.08" y2="264.8" stroke="#d87880" stroke-width="0.6"/>
<line x1="260.18" y1="249.37" x2="261.98" y2="249.37" stroke="#d87880" stroke-width="0.6"/>
<line x1="260.18" y1="264.8" x2="261.98" y2="264.8" stroke="#d87880" stroke-width="0.6"/>
<line x1="263.96" y1="254.39" x2="263.96" y2="267.01" stroke="#d87880" stroke-width="0.6"/>
<line x1="263.06" y1="254.39" x2="264.86" y2="254.39" stroke="#d87880" stroke-width="0.6"/>
<line x1="263.06" y1="267.01" x2="264.86" y2="267.01" stroke="#d87880" stroke-width="0.6"/>
<rect x="256.95" y="254.08" width="2.5" height="2.5" fill="#b01820"/>
<rect x="257.53" y="257.59" width="2.5" height="2.5" fill="#b01820"/>
<rect x="259.83" y="255.84" width="2.5" height="2.5" fill="#b01820"/>
<rect x="262.71" y="259.45" width="2.5" height="2.5" fill="#b01820"/>
<rect x="285.75" y="284.49" width="2.5" height="2.5" fill="#b01820"/>
<rect x="314.55" y="288.1" width="2.5" height="2.5" fill="#b01820"/>
<text font-size="5.7" fill="#333333" stroke="#333333" stroke-width="0.14" text-anchor="end" transform="translate(327.4 242.4) scale(1 1.15)">IC50</text>
<text font-size="5.7" fill="#c8303c" stroke="#c8303c" stroke-width="0.22" text-anchor="end" transform="translate(328.9 249.7) scale(1 1.15)">hIEC:  20.9 µM</text>
<text font-size="5.7" fill="#7a7a7a" stroke="#7a7a7a" stroke-width="0.14" text-anchor="end" transform="translate(328.9 256.3) scale(1 1.15)">Caco-2:  43.6 µM</text>
<text font-size="10.35" fill="#1e1e1e" stroke="#1e1e1e" stroke-width="0.08" text-anchor="middle" transform="translate(379.55 231.5) scale(1 0.95)">Sorafenib</text>
<line x1="361.13" y1="237.8" x2="361.13" y2="290.4" stroke="#d84a58" stroke-width="0.8" stroke-dasharray="0.7,0.6"/>
<line x1="362.7" y1="237.8" x2="362.7" y2="290.4" stroke="#9a9a9a" stroke-width="0.75" stroke-dasharray="0.7,0.6"/>
<line x1="350.5" y1="237" x2="350.5" y2="291" stroke="#333333" stroke-width="1"/>
<line x1="350" y1="290.5" x2="409" y2="290.5" stroke="#333333" stroke-width="1"/>
<line x1="348.4" y1="290.5" x2="350.5" y2="290.5" stroke="#333333" stroke-width="1"/>
<text font-size="7.85" fill="#262626" stroke="#262626" stroke-width="0.2" text-anchor="end" transform="translate(347.5 293.11) scale(1 1.1)">0</text>
<line x1="348.4" y1="272.5" x2="350.5" y2="272.5" stroke="#333333" stroke-width="1"/>
<text font-size="7.85" fill="#262626" stroke="#262626" stroke-width="0.2" text-anchor="end" transform="translate(347.5 275.58) scale(1 1.1)">50</text>
<line x1="348.4" y1="255.5" x2="350.5" y2="255.5" stroke="#333333" stroke-width="1"/>
<text font-size="7.85" fill="#262626" stroke="#262626" stroke-width="0.2" text-anchor="end" transform="translate(347.5 258.04) scale(1 1.1)">100</text>
<line x1="348.4" y1="237.5" x2="350.5" y2="237.5" stroke="#333333" stroke-width="1"/>
<text font-size="7.85" fill="#262626" stroke="#262626" stroke-width="0.2" text-anchor="end" transform="translate(347.5 240.51) scale(1 1.1)">150</text>
<line x1="350.5" y1="290.5" x2="350.5" y2="292.6" stroke="#333333" stroke-width="1"/>
<text font-size="7.85" fill="#262626" stroke="#262626" stroke-width="0.2" text-anchor="middle" transform="translate(350.5 300.95) scale(1 1.1)">0</text>
<line x1="379.5" y1="290.5" x2="379.5" y2="292.6" stroke="#333333" stroke-width="1"/>
<text font-size="7.85" fill="#262626" stroke="#262626" stroke-width="0.2" text-anchor="middle" transform="translate(379.55 300.95) scale(1 1.1)">50</text>
<line x1="408.5" y1="290.5" x2="408.5" y2="292.6" stroke="#333333" stroke-width="1"/>
<text font-size="7.85" fill="#262626" stroke="#262626" stroke-width="0.2" text-anchor="middle" transform="translate(408.6 300.95) scale(1 1.1)">100</text>
<polyline points="350.5,255.33 353.4,260.59 356.31,257.09 379.55,287.59 408.6,287.95" fill="none" stroke="#7e7e7e" stroke-width="0.6"/>
<rect x="349.65" y="254.48" width="1.7" height="1.7" fill="#505050"/>
<rect x="352.55" y="259.74" width="1.7" height="1.7" fill="#505050"/>
<rect x="355.46" y="256.24" width="1.7" height="1.7" fill="#505050"/>
<rect x="378.7" y="286.74" width="1.7" height="1.7" fill="#505050"/>
<rect x="407.75" y="287.1" width="1.7" height="1.7" fill="#505050"/>
<polyline points="350.5,255.33 351.08,258.14 353.4,259.89 356.31,269.11 379.55,279.39 408.6,286.19" fill="none" stroke="#cc3a44" stroke-width="0.6"/>
<line x1="379.55" y1="276.93" x2="379.55" y2="281.84" stroke="#c85058" stroke-width="0.6"/>
<line x1="378.65" y1="276.93" x2="380.45" y2="276.93" stroke="#c85058" stroke-width="0.6"/>
<line x1="378.65" y1="281.84" x2="380.45" y2="281.84" stroke="#c85058" stroke-width="0.6"/>
<rect x="349.25" y="254.08" width="2.5" height="2.5" fill="#b01820"/>
<rect x="349.83" y="256.89" width="2.5" height="2.5" fill="#b01820"/>
<rect x="352.15" y="258.64" width="2.5" height="2.5" fill="#b01820"/>
<rect x="355.06" y="267.86" width="2.5" height="2.5" fill="#b01820"/>
<rect x="378.3" y="278.14" width="2.5" height="2.5" fill="#b01820"/>
<rect x="407.35" y="284.94" width="2.5" height="2.5" fill="#b01820"/>
<text font-size="5.7" fill="#333333" stroke="#333333" stroke-width="0.14" text-anchor="end" transform="translate(414.7 242.4) scale(1 1.15)">IC50</text>
<text font-size="5.7" fill="#c8303c" stroke="#c8303c" stroke-width="0.22" text-anchor="end" transform="translate(416.2 249.7) scale(1 1.15)">hIEC:  19.1 µM</text>
<text font-size="5.7" fill="#7a7a7a" stroke="#7a7a7a" stroke-width="0.14" text-anchor="end" transform="translate(416.2 256.3) scale(1 1.15)">Caco-2:  21.4 µM</text>
<text font-size="10.35" fill="#1e1e1e" stroke="#1e1e1e" stroke-width="0.08" text-anchor="middle" transform="translate(471 231.5) scale(1 0.95)">Lapatinib</text>
<line x1="458.57" y1="237.8" x2="458.57" y2="290.4" stroke="#d84a58" stroke-width="0.8" stroke-dasharray="0.7,0.6"/>
<line x1="451.52" y1="237.8" x2="451.52" y2="290.4" stroke="#9a9a9a" stroke-width="0.75" stroke-dasharray="0.7,0.6"/>
<rect x="441.5" y="237" width="2" height="53.5" fill="#999999"/>
<line x1="442" y1="290.5" x2="500" y2="290.5" stroke="#333333" stroke-width="1"/>
<line x1="440.4" y1="290.5" x2="442.5" y2="290.5" stroke="#333333" stroke-width="1"/>
<text font-size="7.85" fill="#262626" stroke="#262626" stroke-width="0.2" text-anchor="end" transform="translate(439.1 293.11) scale(1 1.1)">0</text>
<line x1="440.4" y1="272.5" x2="442.5" y2="272.5" stroke="#333333" stroke-width="1"/>
<text font-size="7.85" fill="#262626" stroke="#262626" stroke-width="0.2" text-anchor="end" transform="translate(439.1 275.58) scale(1 1.1)">50</text>
<line x1="440.4" y1="255.5" x2="442.5" y2="255.5" stroke="#333333" stroke-width="1"/>
<text font-size="7.85" fill="#262626" stroke="#262626" stroke-width="0.2" text-anchor="end" transform="translate(439.1 258.04) scale(1 1.1)">100</text>
<line x1="440.4" y1="237.5" x2="442.5" y2="237.5" stroke="#333333" stroke-width="1"/>
<text font-size="7.85" fill="#262626" stroke="#262626" stroke-width="0.2" text-anchor="end" transform="translate(439.1 240.51) scale(1 1.1)">150</text>
<line x1="442.5" y1="290.5" x2="442.5" y2="292.6" stroke="#333333" stroke-width="1"/>
<text font-size="7.85" fill="#262626" stroke="#262626" stroke-width="0.2" text-anchor="middle" transform="translate(442.1 300.95) scale(1 1.1)">0</text>
<line x1="471.5" y1="290.5" x2="471.5" y2="292.6" stroke="#333333" stroke-width="1"/>
<text font-size="7.85" fill="#262626" stroke="#262626" stroke-width="0.2" text-anchor="middle" transform="translate(471 300.95) scale(1 1.1)">50</text>
<line x1="499.5" y1="290.5" x2="499.5" y2="292.6" stroke="#333333" stroke-width="1"/>
<text font-size="7.85" fill="#262626" stroke="#262626" stroke-width="0.2" text-anchor="middle" transform="translate(499.9 300.95) scale(1 1.1)">100</text>
<polyline points="442.1,255.33 444.99,257.09 447.88,272.17 471,281.28 499.9,288.3" fill="none" stroke="#7e7e7e" stroke-width="0.6"/>
<rect x="441.25" y="254.48" width="1.7" height="1.7" fill="#505050"/>
<rect x="444.14" y="256.24" width="1.7" height="1.7" fill="#505050"/>
<rect x="447.03" y="271.32" width="1.7" height="1.7" fill="#505050"/>
<rect x="470.15" y="280.43" width="1.7" height="1.7" fill="#505050"/>
<rect x="499.05" y="287.45" width="1.7" height="1.7" fill="#505050"/>
<polyline points="442.1,255.33 442.68,259.54 444.99,262 447.88,267.61 471,272.17 499.9,283.74" fill="none" stroke="#cc3a44" stroke-width="0.6"/>
<rect x="440.85" y="254.08" width="2.5" height="2.5" fill="#b01820"/>
<rect x="441.43" y="258.29" width="2.5" height="2.5" fill="#b01820"/>
<rect x="443.74" y="260.75" width="2.5" height="2.5" fill="#b01820"/>
<rect x="446.63" y="266.36" width="2.5" height="2.5" fill="#b01820"/>
<rect x="469.75" y="270.92" width="2.5" height="2.5" fill="#b01820"/>
<rect x="498.65" y="282.49" width="2.5" height="2.5" fill="#b01820"/>
<text font-size="5.7" fill="#333333" stroke="#333333" stroke-width="0.14" text-anchor="end" transform="translate(505.8 242.4) scale(1 1.15)">IC50</text>
<text font-size="5.7" fill="#c8303c" stroke="#c8303c" stroke-width="0.22" text-anchor="end" transform="translate(507.3 249.7) scale(1 1.15)">hIEC:  30.8 µM</text>
<text font-size="5.7" fill="#7a7a7a" stroke="#7a7a7a" stroke-width="0.14" text-anchor="end" transform="translate(507.3 256.3) scale(1 1.15)">Caco-2:  16.9 µM</text>
<text font-size="10.35" fill="#1e1e1e" stroke="#1e1e1e" stroke-width="0.08" text-anchor="middle" transform="translate(636.1 231.5) scale(1 0.95)">DMSO</text>
<line x1="607.5" y1="237" x2="607.5" y2="291" stroke="#4a4a4a" stroke-width="1"/>
<line x1="607" y1="290.5" x2="666" y2="290.5" stroke="#4a4a4a" stroke-width="1"/>
<line x1="605.4" y1="290.5" x2="607.5" y2="290.5" stroke="#4a4a4a" stroke-width="1"/>
<text font-size="7.85" fill="#3a3a3a" text-anchor="end" transform="translate(604.2 293.11) scale(1 1.1)">0</text>
<line x1="605.4" y1="272.5" x2="607.5" y2="272.5" stroke="#4a4a4a" stroke-width="1"/>
<text font-size="7.85" fill="#3a3a3a" text-anchor="end" transform="translate(604.2 275.58) scale(1 1.1)">50</text>
<line x1="605.4" y1="255.5" x2="607.5" y2="255.5" stroke="#4a4a4a" stroke-width="1"/>
<text font-size="7.85" fill="#3a3a3a" text-anchor="end" transform="translate(604.2 258.04) scale(1 1.1)">100</text>
<line x1="605.4" y1="237.5" x2="607.5" y2="237.5" stroke="#4a4a4a" stroke-width="1"/>
<text font-size="7.85" fill="#3a3a3a" text-anchor="end" transform="translate(604.2 240.51) scale(1 1.1)">150</text>
<line x1="607.5" y1="290.5" x2="607.5" y2="292.6" stroke="#4a4a4a" stroke-width="1"/>
<text font-size="7.85" fill="#3a3a3a" text-anchor="middle" transform="translate(607.2 300.95) scale(1 1.1)">0</text>
<line x1="636.5" y1="290.5" x2="636.5" y2="292.6" stroke="#4a4a4a" stroke-width="1"/>
<text font-size="7.85" fill="#3a3a3a" text-anchor="middle" transform="translate(636.1 300.95) scale(1 1.1)">50</text>
<line x1="665.5" y1="290.5" x2="665.5" y2="292.6" stroke="#4a4a4a" stroke-width="1"/>
<text font-size="7.85" fill="#3a3a3a" text-anchor="middle" transform="translate(665 300.95) scale(1 1.1)">100</text>
<polyline points="607.2,255.68 610.09,258.49 612.98,258.49 636.1,259.54 665,260.77" fill="none" stroke="#7e7e7e" stroke-width="0.6"/>
<rect x="606.35" y="254.83" width="1.7" height="1.7" fill="#505050"/>
<rect x="609.24" y="257.64" width="1.7" height="1.7" fill="#505050"/>
<rect x="612.13" y="257.64" width="1.7" height="1.7" fill="#505050"/>
<rect x="635.25" y="258.69" width="1.7" height="1.7" fill="#505050"/>
<rect x="664.15" y="259.92" width="1.7" height="1.7" fill="#505050"/>
<polyline points="607.2,255.33 607.78,255.33 610.09,255.33 612.98,256.39 636.1,254.11 665,256.39" fill="none" stroke="#cc3a44" stroke-width="0.6"/>
<rect x="605.95" y="254.08" width="2.5" height="2.5" fill="#b01820"/>
<rect x="606.53" y="254.08" width="2.5" height="2.5" fill="#b01820"/>
<rect x="608.84" y="254.08" width="2.5" height="2.5" fill="#b01820"/>
<rect x="611.73" y="255.14" width="2.5" height="2.5" fill="#b01820"/>
<rect x="634.85" y="252.86" width="2.5" height="2.5" fill="#b01820"/>
<rect x="663.75" y="255.14" width="2.5" height="2.5" fill="#b01820"/>
<text font-size="10.35" fill="#1e1e1e" stroke="#1e1e1e" stroke-width="0.08" text-anchor="middle" transform="translate(104.35 325.3) scale(1 0.95)">Gefitinib</text>
<line x1="91.57" y1="332.8" x2="91.57" y2="385.4" stroke="#d84a58" stroke-width="0.8" stroke-dasharray="0.7,0.6"/>
<line x1="83.43" y1="332.8" x2="83.43" y2="385.4" stroke="#9a9a9a" stroke-width="0.75" stroke-dasharray="0.7,0.6"/>
<line x1="75.5" y1="332" x2="75.5" y2="386" stroke="#333333" stroke-width="1"/>
<line x1="75" y1="385.5" x2="134" y2="385.5" stroke="#333333" stroke-width="1"/>
<line x1="73.4" y1="385.5" x2="75.5" y2="385.5" stroke="#333333" stroke-width="1"/>
<text font-size="7.85" fill="#262626" stroke="#262626" stroke-width="0.2" text-anchor="end" transform="translate(72.3 388.11) scale(1 1.1)">0</text>
<line x1="73.4" y1="367.5" x2="75.5" y2="367.5" stroke="#333333" stroke-width="1"/>
<text font-size="7.85" fill="#262626" stroke="#262626" stroke-width="0.2" text-anchor="end" transform="translate(72.3 370.58) scale(1 1.1)">50</text>
<line x1="73.4" y1="350.5" x2="75.5" y2="350.5" stroke="#333333" stroke-width="1"/>
<text font-size="7.85" fill="#262626" stroke="#262626" stroke-width="0.2" text-anchor="end" transform="translate(72.3 353.04) scale(1 1.1)">100</text>
<line x1="73.4" y1="332.5" x2="75.5" y2="332.5" stroke="#333333" stroke-width="1"/>
<text font-size="7.85" fill="#262626" stroke="#262626" stroke-width="0.2" text-anchor="end" transform="translate(72.3 335.51) scale(1 1.1)">150</text>
<line x1="75.5" y1="385.5" x2="75.5" y2="387.6" stroke="#333333" stroke-width="1"/>
<text font-size="7.85" fill="#262626" stroke="#262626" stroke-width="0.2" text-anchor="middle" transform="translate(75.3 395.95) scale(1 1.1)">0</text>
<line x1="104.5" y1="385.5" x2="104.5" y2="387.6" stroke="#333333" stroke-width="1"/>
<text font-size="7.85" fill="#262626" stroke="#262626" stroke-width="0.2" text-anchor="middle" transform="translate(104.35 395.95) scale(1 1.1)">50</text>
<line x1="133.5" y1="385.5" x2="133.5" y2="387.6" stroke="#333333" stroke-width="1"/>
<text font-size="7.85" fill="#262626" stroke="#262626" stroke-width="0.2" text-anchor="middle" transform="translate(133.4 395.95) scale(1 1.1)">100</text>
<polyline points="75.3,350.33 75.88,359.45 78.2,361.2 81.11,361.55 104.35,377.83 133.4,379.44" fill="none" stroke="#7e7e7e" stroke-width="0.6"/>
<rect x="74.45" y="349.48" width="1.7" height="1.7" fill="#505050"/>
<rect x="75.03" y="358.6" width="1.7" height="1.7" fill="#505050"/>
<rect x="77.36" y="360.35" width="1.7" height="1.7" fill="#505050"/>
<rect x="80.26" y="360.7" width="1.7" height="1.7" fill="#505050"/>
<rect x="103.5" y="376.98" width="1.7" height="1.7" fill="#505050"/>
<rect x="132.55" y="378.59" width="1.7" height="1.7" fill="#505050"/>
<polyline points="75.3,350.33 75.88,358.54 78.2,355.7 81.11,360.5 104.35,368.92 133.4,376.74" fill="none" stroke="#cc3a44" stroke-width="0.6"/>
<line x1="104.35" y1="366.81" x2="104.35" y2="371.02" stroke="#c85058" stroke-width="0.6"/>
<line x1="103.45" y1="366.81" x2="105.25" y2="366.81" stroke="#c85058" stroke-width="0.6"/>
<line x1="103.45" y1="371.02" x2="105.25" y2="371.02" stroke="#c85058" stroke-width="0.6"/>
<line x1="78.2" y1="353.95" x2="78.2" y2="357.45" stroke="#c85058" stroke-width="0.6"/>
<line x1="77.3" y1="353.95" x2="79.11" y2="353.95" stroke="#c85058" stroke-width="0.6"/>
<line x1="77.3" y1="357.45" x2="79.11" y2="357.45" stroke="#c85058" stroke-width="0.6"/>
<rect x="74.05" y="349.08" width="2.5" height="2.5" fill="#b01820"/>
<rect x="74.63" y="357.29" width="2.5" height="2.5" fill="#b01820"/>
<rect x="76.95" y="354.45" width="2.5" height="2.5" fill="#b01820"/>
<rect x="79.86" y="359.25" width="2.5" height="2.5" fill="#b01820"/>
<rect x="103.1" y="367.67" width="2.5" height="2.5" fill="#b01820"/>
<rect x="132.15" y="375.49" width="2.5" height="2.5" fill="#b01820"/>
<text font-size="5.7" fill="#333333" stroke="#333333" stroke-width="0.14" text-anchor="end" transform="translate(142.6 337.6) scale(1 1.15)">IC50</text>
<text font-size="5.7" fill="#c8303c" stroke="#c8303c" stroke-width="0.22" text-anchor="end" transform="translate(144.1 344.5) scale(1 1.15)">hIEC:  33.0 µM</text>
<text font-size="5.7" fill="#7a7a7a" stroke="#7a7a7a" stroke-width="0.14" text-anchor="end" transform="translate(144.1 351.3) scale(1 1.15)">Caco-2:  12.7 µM</text>
<text font-size="10.35" fill="#1e1e1e" stroke="#1e1e1e" stroke-width="0.08" text-anchor="middle" transform="translate(197.35 325.3) scale(1 0.95)">Crizotinib</text>
<line x1="187.19" y1="332.8" x2="187.19" y2="385.4" stroke="#d84a58" stroke-width="0.8" stroke-dasharray="0.7,0.6"/>
<line x1="181.77" y1="332.8" x2="181.77" y2="385.4" stroke="#9a9a9a" stroke-width="0.75" stroke-dasharray="0.7,0.6"/>
<line x1="168.5" y1="332" x2="168.5" y2="386" stroke="#333333" stroke-width="1"/>
<line x1="168" y1="385.5" x2="227" y2="385.5" stroke="#333333" stroke-width="1"/>
<line x1="166.4" y1="385.5" x2="168.5" y2="385.5" stroke="#333333" stroke-width="1"/>
<text font-size="7.85" fill="#262626" stroke="#262626" stroke-width="0.2" text-anchor="end" transform="translate(165.5 388.11) scale(1 1.1)">0</text>
<line x1="166.4" y1="367.5" x2="168.5" y2="367.5" stroke="#333333" stroke-width="1"/>
<text font-size="7.85" fill="#262626" stroke="#262626" stroke-width="0.2" text-anchor="end" transform="translate(165.5 370.58) scale(1 1.1)">50</text>
<line x1="166.4" y1="350.5" x2="168.5" y2="350.5" stroke="#333333" stroke-width="1"/>
<text font-size="7.85" fill="#262626" stroke="#262626" stroke-width="0.2" text-anchor="end" transform="translate(165.5 353.04) scale(1 1.1)">100</text>
<line x1="166.4" y1="332.5" x2="168.5" y2="332.5" stroke="#333333" stroke-width="1"/>
<text font-size="7.85" fill="#262626" stroke="#262626" stroke-width="0.2" text-anchor="end" transform="translate(165.5 335.51) scale(1 1.1)">150</text>
<line x1="168.5" y1="385.5" x2="168.5" y2="387.6" stroke="#333333" stroke-width="1"/>
<text font-size="7.85" fill="#262626" stroke="#262626" stroke-width="0.2" text-anchor="middle" transform="translate(168.5 395.95) scale(1 1.1)">0</text>
<line x1="197.5" y1="385.5" x2="197.5" y2="387.6" stroke="#333333" stroke-width="1"/>
<text font-size="7.85" fill="#262626" stroke="#262626" stroke-width="0.2" text-anchor="middle" transform="translate(197.35 395.95) scale(1 1.1)">50</text>
<line x1="226.5" y1="385.5" x2="226.5" y2="387.6" stroke="#333333" stroke-width="1"/>
<text font-size="7.85" fill="#262626" stroke="#262626" stroke-width="0.2" text-anchor="middle" transform="translate(226.2 395.95) scale(1 1.1)">100</text>
<polyline points="168.5,350.33 171.38,352.09 174.27,354.89 197.35,380.32 226.2,380.32" fill="none" stroke="#7e7e7e" stroke-width="0.6"/>
<rect x="167.65" y="349.48" width="1.7" height="1.7" fill="#505050"/>
<rect x="170.53" y="351.24" width="1.7" height="1.7" fill="#505050"/>
<rect x="173.42" y="354.04" width="1.7" height="1.7" fill="#505050"/>
<rect x="196.5" y="379.47" width="1.7" height="1.7" fill="#505050"/>
<rect x="225.35" y="379.47" width="1.7" height="1.7" fill="#505050"/>
<polyline points="168.5,350.33 169.08,348.23 171.38,351.03 174.27,353.14 197.35,375.69 226.2,379.44" fill="none" stroke="#cc3a44" stroke-width="0.6"/>
<rect x="167.25" y="349.08" width="2.5" height="2.5" fill="#b01820"/>
<rect x="167.83" y="346.98" width="2.5" height="2.5" fill="#b01820"/>
<rect x="170.13" y="349.78" width="2.5" height="2.5" fill="#b01820"/>
<rect x="173.02" y="351.89" width="2.5" height="2.5" fill="#b01820"/>
<rect x="196.1" y="374.44" width="2.5" height="2.5" fill="#b01820"/>
<rect x="224.95" y="378.19" width="2.5" height="2.5" fill="#b01820"/>
<text font-size="5.7" fill="#333333" stroke="#333333" stroke-width="0.14" text-anchor="end" transform="translate(234.2 337.6) scale(1 1.15)">IC50</text>
<text font-size="5.7" fill="#c8303c" stroke="#c8303c" stroke-width="0.22" text-anchor="end" transform="translate(235.7 344.5) scale(1 1.15)">hIEC:  32.3 µM</text>
<text font-size="5.7" fill="#7a7a7a" stroke="#7a7a7a" stroke-width="0.14" text-anchor="end" transform="translate(235.7 351.3) scale(1 1.15)">Caco-2:  21.4 µM</text>
<text font-size="10.35" fill="#1e1e1e" stroke="#1e1e1e" stroke-width="0.08" text-anchor="middle" transform="translate(288 325.3) scale(1 0.95)">Sunitinib</text>
<line x1="266.08" y1="332.8" x2="266.08" y2="385.4" stroke="#d84a58" stroke-width="0.8" stroke-dasharray="0.7,0.6"/>
<line x1="276.69" y1="332.8" x2="276.69" y2="385.4" stroke="#9a9a9a" stroke-width="0.75" stroke-dasharray="0.7,0.6"/>
<line x1="259.5" y1="332" x2="259.5" y2="386" stroke="#333333" stroke-width="1"/>
<line x1="259" y1="385.5" x2="318" y2="385.5" stroke="#333333" stroke-width="1"/>
<line x1="257.4" y1="385.5" x2="259.5" y2="385.5" stroke="#333333" stroke-width="1"/>
<text font-size="7.85" fill="#262626" stroke="#262626" stroke-width="0.2" text-anchor="end" transform="translate(256 388.11) scale(1 1.1)">0</text>
<line x1="257.4" y1="367.5" x2="259.5" y2="367.5" stroke="#333333" stroke-width="1"/>
<text font-size="7.85" fill="#262626" stroke="#262626" stroke-width="0.2" text-anchor="end" transform="translate(256 370.58) scale(1 1.1)">50</text>
<line x1="257.4" y1="350.5" x2="259.5" y2="350.5" stroke="#333333" stroke-width="1"/>
<text font-size="7.85" fill="#262626" stroke="#262626" stroke-width="0.2" text-anchor="end" transform="translate(256 353.04) scale(1 1.1)">100</text>
<line x1="257.4" y1="332.5" x2="259.5" y2="332.5" stroke="#333333" stroke-width="1"/>
<text font-size="7.85" fill="#262626" stroke="#262626" stroke-width="0.2" text-anchor="end" transform="translate(256 335.51) scale(1 1.1)">150</text>
<line x1="259.5" y1="385.5" x2="259.5" y2="387.6" stroke="#333333" stroke-width="1"/>
<text font-size="7.85" fill="#262626" stroke="#262626" stroke-width="0.2" text-anchor="middle" transform="translate(259 395.95) scale(1 1.1)">0</text>
<line x1="288.5" y1="385.5" x2="288.5" y2="387.6" stroke="#333333" stroke-width="1"/>
<text font-size="7.85" fill="#262626" stroke="#262626" stroke-width="0.2" text-anchor="middle" transform="translate(288 395.95) scale(1 1.1)">50</text>
<line x1="317.5" y1="385.5" x2="317.5" y2="387.6" stroke="#333333" stroke-width="1"/>
<text font-size="7.85" fill="#262626" stroke="#262626" stroke-width="0.2" text-anchor="middle" transform="translate(317 395.95) scale(1 1.1)">100</text>
<polyline points="259,350.33 261.9,350.68 264.8,352.44 288,374.18 317,378.39" fill="none" stroke="#7e7e7e" stroke-width="0.6"/>
<rect x="258.15" y="349.48" width="1.7" height="1.7" fill="#505050"/>
<rect x="261.05" y="349.83" width="1.7" height="1.7" fill="#505050"/>
<rect x="263.95" y="351.59" width="1.7" height="1.7" fill="#505050"/>
<rect x="287.15" y="373.33" width="1.7" height="1.7" fill="#505050"/>
<rect x="316.15" y="377.54" width="1.7" height="1.7" fill="#505050"/>
<polyline points="259,350.33 259.58,356.65 261.9,359.1 264.8,366.57 288,377.83 317,378.39" fill="none" stroke="#cc3a44" stroke-width="0.6"/>
<line x1="261.9" y1="357.35" x2="261.9" y2="360.85" stroke="#c85058" stroke-width="0.6"/>
<line x1="261" y1="357.35" x2="262.8" y2="357.35" stroke="#c85058" stroke-width="0.6"/>
<line x1="261" y1="360.85" x2="262.8" y2="360.85" stroke="#c85058" stroke-width="0.6"/>
<line x1="264.8" y1="364.82" x2="264.8" y2="368.32" stroke="#c85058" stroke-width="0.6"/>
<line x1="263.9" y1="364.82" x2="265.7" y2="364.82" stroke="#c85058" stroke-width="0.6"/>
<line x1="263.9" y1="368.32" x2="265.7" y2="368.32" stroke="#c85058" stroke-width="0.6"/>
<rect x="257.75" y="349.08" width="2.5" height="2.5" fill="#b01820"/>
<rect x="258.33" y="355.4" width="2.5" height="2.5" fill="#b01820"/>
<rect x="260.65" y="357.85" width="2.5" height="2.5" fill="#b01820"/>
<rect x="263.55" y="365.32" width="2.5" height="2.5" fill="#b01820"/>
<rect x="286.75" y="376.58" width="2.5" height="2.5" fill="#b01820"/>
<rect x="315.75" y="377.14" width="2.5" height="2.5" fill="#b01820"/>
<text font-size="5.7" fill="#333333" stroke="#333333" stroke-width="0.14" text-anchor="end" transform="translate(327.4 337.6) scale(1 1.15)">IC50</text>
<text font-size="5.7" fill="#c8303c" stroke="#c8303c" stroke-width="0.22" text-anchor="end" transform="translate(328.9 344.5) scale(1 1.15)">hIEC:  12.8 µM</text>
<text font-size="5.7" fill="#7a7a7a" stroke="#7a7a7a" stroke-width="0.14" text-anchor="end" transform="translate(328.9 351.3) scale(1 1.15)">Caco-2:  35.4 µM</text>
<text font-size="10.35" fill="#1e1e1e" stroke="#1e1e1e" stroke-width="0.08" text-anchor="middle" transform="translate(379.1 325.3) scale(1 0.95)">Sorafenib</text>
<line x1="359.26" y1="332.8" x2="359.26" y2="385.4" stroke="#d84a58" stroke-width="0.8" stroke-dasharray="0.7,0.6"/>
<rect x="349.5" y="332" width="2" height="53.5" fill="#999999"/>
<line x1="350" y1="385.5" x2="409" y2="385.5" stroke="#333333" stroke-width="1"/>
<line x1="348.4" y1="385.5" x2="350.5" y2="385.5" stroke="#333333" stroke-width="1"/>
<text font-size="7.85" fill="#262626" stroke="#262626" stroke-width="0.2" text-anchor="end" transform="translate(347.1 388.11) scale(1 1.1)">0</text>
<line x1="348.4" y1="367.5" x2="350.5" y2="367.5" stroke="#333333" stroke-width="1"/>
<text font-size="7.85" fill="#262626" stroke="#262626" stroke-width="0.2" text-anchor="end" transform="translate(347.1 370.58) scale(1 1.1)">50</text>
<line x1="348.4" y1="350.5" x2="350.5" y2="350.5" stroke="#333333" stroke-width="1"/>
<text font-size="7.85" fill="#262626" stroke="#262626" stroke-width="0.2" text-anchor="end" transform="translate(347.1 353.04) scale(1 1.1)">100</text>
<line x1="348.4" y1="332.5" x2="350.5" y2="332.5" stroke="#333333" stroke-width="1"/>
<text font-size="7.85" fill="#262626" stroke="#262626" stroke-width="0.2" text-anchor="end" transform="translate(347.1 335.51) scale(1 1.1)">150</text>
<line x1="350.5" y1="385.5" x2="350.5" y2="387.6" stroke="#333333" stroke-width="1"/>
<text font-size="7.85" fill="#262626" stroke="#262626" stroke-width="0.2" text-anchor="middle" transform="translate(350.1 395.95) scale(1 1.1)">0</text>
<line x1="379.5" y1="385.5" x2="379.5" y2="387.6" stroke="#333333" stroke-width="1"/>
<text font-size="7.85" fill="#262626" stroke="#262626" stroke-width="0.2" text-anchor="middle" transform="translate(379.1 395.95) scale(1 1.1)">50</text>
<line x1="408.5" y1="385.5" x2="408.5" y2="387.6" stroke="#333333" stroke-width="1"/>
<text font-size="7.85" fill="#262626" stroke="#262626" stroke-width="0.2" text-anchor="middle" transform="translate(408.1 395.95) scale(1 1.1)">100</text>
<polyline points="350.1,348.23 353,351.39 355.9,357.35 379.1,361.2 408.1,365.41" fill="none" stroke="#7e7e7e" stroke-width="0.6"/>
<rect x="349.25" y="347.38" width="1.7" height="1.7" fill="#505050"/>
<rect x="352.15" y="350.54" width="1.7" height="1.7" fill="#505050"/>
<rect x="355.05" y="356.5" width="1.7" height="1.7" fill="#505050"/>
<rect x="378.25" y="360.35" width="1.7" height="1.7" fill="#505050"/>
<rect x="407.25" y="364.56" width="1.7" height="1.7" fill="#505050"/>
<polyline points="350.1,350.33 350.68,350.68 353,359.8 355.9,363.66 379.1,375.69 408.1,375.69" fill="none" stroke="#cc3a44" stroke-width="0.6"/>
<rect x="348.85" y="349.08" width="2.5" height="2.5" fill="#b01820"/>
<rect x="349.43" y="349.43" width="2.5" height="2.5" fill="#b01820"/>
<rect x="351.75" y="358.55" width="2.5" height="2.5" fill="#b01820"/>
<rect x="354.65" y="362.41" width="2.5" height="2.5" fill="#b01820"/>
<rect x="377.85" y="374.44" width="2.5" height="2.5" fill="#b01820"/>
<rect x="406.85" y="374.44" width="2.5" height="2.5" fill="#b01820"/>
<text font-size="5.7" fill="#333333" stroke="#333333" stroke-width="0.14" text-anchor="end" transform="translate(414.7 337.6) scale(1 1.15)">IC50</text>
<text font-size="5.7" fill="#c8303c" stroke="#c8303c" stroke-width="0.22" text-anchor="end" transform="translate(416.2 344.5) scale(1 1.15)">hIEC:  18.5 µM</text>
<text font-size="5.7" fill="#7a7a7a" stroke="#7a7a7a" stroke-width="0.14" text-anchor="end" transform="translate(416.2 351.3) scale(1 1.15)">Caco-2:&gt; 100 µM</text>
<text font-size="10.35" fill="#1e1e1e" stroke="#1e1e1e" stroke-width="0.08" text-anchor="middle" transform="translate(469.55 325.3) scale(1 0.95)">Lapatinib</text>
<line x1="452.12" y1="332.8" x2="452.12" y2="385.4" stroke="#d84a58" stroke-width="0.8" stroke-dasharray="0.7,0.6"/>
<line x1="440.5" y1="332" x2="440.5" y2="386" stroke="#333333" stroke-width="1"/>
<line x1="440" y1="385.5" x2="499" y2="385.5" stroke="#333333" stroke-width="1"/>
<line x1="438.4" y1="385.5" x2="440.5" y2="385.5" stroke="#333333" stroke-width="1"/>
<text font-size="7.85" fill="#262626" stroke="#262626" stroke-width="0.2" text-anchor="end" transform="translate(437.5 388.11) scale(1 1.1)">0</text>
<line x1="438.4" y1="367.5" x2="440.5" y2="367.5" stroke="#333333" stroke-width="1"/>
<text font-size="7.85" fill="#262626" stroke="#262626" stroke-width="0.2" text-anchor="end" transform="translate(437.5 370.58) scale(1 1.1)">50</text>
<line x1="438.4" y1="350.5" x2="440.5" y2="350.5" stroke="#333333" stroke-width="1"/>
<text font-size="7.85" fill="#262626" stroke="#262626" stroke-width="0.2" text-anchor="end" transform="translate(437.5 353.04) scale(1 1.1)">100</text>
<line x1="438.4" y1="332.5" x2="440.5" y2="332.5" stroke="#333333" stroke-width="1"/>
<text font-size="7.85" fill="#262626" stroke="#262626" stroke-width="0.2" text-anchor="end" transform="translate(437.5 335.51) scale(1 1.1)">150</text>
<line x1="440.5" y1="385.5" x2="440.5" y2="387.6" stroke="#333333" stroke-width="1"/>
<text font-size="7.85" fill="#262626" stroke="#262626" stroke-width="0.2" text-anchor="middle" transform="translate(440.5 395.95) scale(1 1.1)">0</text>
<line x1="469.5" y1="385.5" x2="469.5" y2="387.6" stroke="#333333" stroke-width="1"/>
<text font-size="7.85" fill="#262626" stroke="#262626" stroke-width="0.2" text-anchor="middle" transform="translate(469.55 395.95) scale(1 1.1)">50</text>
<line x1="498.5" y1="385.5" x2="498.5" y2="387.6" stroke="#333333" stroke-width="1"/>
<text font-size="7.85" fill="#262626" stroke="#262626" stroke-width="0.2" text-anchor="middle" transform="translate(498.6 395.95) scale(1 1.1)">100</text>
<polyline points="440.5,350.33 443.4,359.8 446.31,356.29 469.55,380.14 498.6,378.39" fill="none" stroke="#7e7e7e" stroke-width="0.6"/>
<rect x="439.65" y="349.48" width="1.7" height="1.7" fill="#505050"/>
<rect x="442.55" y="358.95" width="1.7" height="1.7" fill="#505050"/>
<rect x="445.46" y="355.44" width="1.7" height="1.7" fill="#505050"/>
<rect x="468.7" y="379.29" width="1.7" height="1.7" fill="#505050"/>
<rect x="497.75" y="377.54" width="1.7" height="1.7" fill="#505050"/>
<polyline points="440.5,350.33 441.08,354.54 443.4,357 446.31,357.7 469.55,380.84 498.6,378.39" fill="none" stroke="#cc3a44" stroke-width="0.6"/>
<rect x="439.25" y="349.08" width="2.5" height="2.5" fill="#b01820"/>
<rect x="439.83" y="353.29" width="2.5" height="2.5" fill="#b01820"/>
<rect x="442.15" y="355.75" width="2.5" height="2.5" fill="#b01820"/>
<rect x="445.06" y="356.45" width="2.5" height="2.5" fill="#b01820"/>
<rect x="468.3" y="379.59" width="2.5" height="2.5" fill="#b01820"/>
<rect x="497.35" y="377.14" width="2.5" height="2.5" fill="#b01820"/>
<text font-size="5.7" fill="#333333" stroke="#333333" stroke-width="0.14" text-anchor="end" transform="translate(505 337.6) scale(1 1.15)">IC50</text>
<text font-size="5.7" fill="#c8303c" stroke="#c8303c" stroke-width="0.22" text-anchor="end" transform="translate(506.5 344.5) scale(1 1.15)">hIEC:  19.7 µM</text>
<text font-size="5.7" fill="#7a7a7a" stroke="#7a7a7a" stroke-width="0.14" text-anchor="end" transform="translate(506.5 351.3) scale(1 1.15)">Caco-2:  20.6 µM</text>
<text font-size="10.35" fill="#1e1e1e" stroke="#1e1e1e" stroke-width="0.08" text-anchor="middle" transform="translate(635.35 325.3) scale(1 0.95)">DMSO</text>
<line x1="606.5" y1="332" x2="606.5" y2="386" stroke="#4a4a4a" stroke-width="1"/>
<line x1="606" y1="385.5" x2="665" y2="385.5" stroke="#4a4a4a" stroke-width="1"/>
<line x1="604.4" y1="385.5" x2="606.5" y2="385.5" stroke="#4a4a4a" stroke-width="1"/>
<text font-size="7.85" fill="#3a3a3a" text-anchor="end" transform="translate(603.6 388.11) scale(1 1.1)">0</text>
<line x1="604.4" y1="367.5" x2="606.5" y2="367.5" stroke="#4a4a4a" stroke-width="1"/>
<text font-size="7.85" fill="#3a3a3a" text-anchor="end" transform="translate(603.6 370.58) scale(1 1.1)">50</text>
<line x1="604.4" y1="350.5" x2="606.5" y2="350.5" stroke="#4a4a4a" stroke-width="1"/>
<text font-size="7.85" fill="#3a3a3a" text-anchor="end" transform="translate(603.6 353.04) scale(1 1.1)">100</text>
<line x1="604.4" y1="332.5" x2="606.5" y2="332.5" stroke="#4a4a4a" stroke-width="1"/>
<text font-size="7.85" fill="#3a3a3a" text-anchor="end" transform="translate(603.6 335.51) scale(1 1.1)">150</text>
<line x1="606.5" y1="385.5" x2="606.5" y2="387.6" stroke="#4a4a4a" stroke-width="1"/>
<text font-size="7.85" fill="#3a3a3a" text-anchor="middle" transform="translate(606.6 395.95) scale(1 1.1)">0</text>
<line x1="635.5" y1="385.5" x2="635.5" y2="387.6" stroke="#4a4a4a" stroke-width="1"/>
<text font-size="7.85" fill="#3a3a3a" text-anchor="middle" transform="translate(635.35 395.95) scale(1 1.1)">50</text>
<line x1="664.5" y1="385.5" x2="664.5" y2="387.6" stroke="#4a4a4a" stroke-width="1"/>
<text font-size="7.85" fill="#3a3a3a" text-anchor="middle" transform="translate(664.1 395.95) scale(1 1.1)">100</text>
<polyline points="606.6,350.33 609.48,349.98 612.35,352.61 635.35,356.65 664.1,361.91" fill="none" stroke="#7e7e7e" stroke-width="0.6"/>
<rect x="605.75" y="349.48" width="1.7" height="1.7" fill="#505050"/>
<rect x="608.62" y="349.13" width="1.7" height="1.7" fill="#505050"/>
<rect x="611.5" y="351.76" width="1.7" height="1.7" fill="#505050"/>
<rect x="634.5" y="355.8" width="1.7" height="1.7" fill="#505050"/>
<rect x="663.25" y="361.06" width="1.7" height="1.7" fill="#505050"/>
<polyline points="606.6,350.33 606.89,341.92 609.48,345.07 612.35,347.88 635.35,348.58 664.1,356.29" fill="none" stroke="#cc3a44" stroke-width="0.6"/>
<rect x="605.35" y="349.08" width="2.5" height="2.5" fill="#b01820"/>
<rect x="605.64" y="340.67" width="2.5" height="2.5" fill="#b01820"/>
<rect x="608.23" y="343.82" width="2.5" height="2.5" fill="#b01820"/>
<rect x="611.1" y="346.63" width="2.5" height="2.5" fill="#b01820"/>
<rect x="634.1" y="347.33" width="2.5" height="2.5" fill="#b01820"/>
<rect x="662.85" y="355.04" width="2.5" height="2.5" fill="#b01820"/>
<text font-size="10.35" fill="#1e1e1e" stroke="#1e1e1e" stroke-width="0.08" text-anchor="middle" transform="translate(105.65 443.2) scale(1 0.95)">Ibuprofen</text>
<line x1="76.5" y1="449" x2="76.5" y2="503" stroke="#333333" stroke-width="1"/>
<line x1="76" y1="502.5" x2="135" y2="502.5" stroke="#333333" stroke-width="1"/>
<line x1="74.4" y1="502.5" x2="76.5" y2="502.5" stroke="#333333" stroke-width="1"/>
<text font-size="7.85" fill="#262626" stroke="#262626" stroke-width="0.2" text-anchor="end" transform="translate(73.6 505.21) scale(1 1.1)">0</text>
<line x1="74.4" y1="484.5" x2="76.5" y2="484.5" stroke="#333333" stroke-width="1"/>
<text font-size="7.85" fill="#262626" stroke="#262626" stroke-width="0.2" text-anchor="end" transform="translate(73.6 487.54) scale(1 1.1)">50</text>
<line x1="74.4" y1="467.5" x2="76.5" y2="467.5" stroke="#333333" stroke-width="1"/>
<text font-size="7.85" fill="#262626" stroke="#262626" stroke-width="0.2" text-anchor="end" transform="translate(73.6 469.88) scale(1 1.1)">100</text>
<line x1="74.4" y1="449.5" x2="76.5" y2="449.5" stroke="#333333" stroke-width="1"/>
<text font-size="7.85" fill="#262626" stroke="#262626" stroke-width="0.2" text-anchor="end" transform="translate(73.6 452.21) scale(1 1.1)">150</text>
<line x1="76.5" y1="502.5" x2="76.5" y2="504.6" stroke="#333333" stroke-width="1"/>
<text font-size="7.85" fill="#262626" stroke="#262626" stroke-width="0.2" text-anchor="middle" transform="translate(76.6 513.05) scale(1 1.1)">0</text>
<line x1="105.5" y1="502.5" x2="105.5" y2="504.6" stroke="#333333" stroke-width="1"/>
<text font-size="7.85" fill="#262626" stroke="#262626" stroke-width="0.2" text-anchor="middle" transform="translate(105.65 513.05) scale(1 1.1)">50</text>
<line x1="134.5" y1="502.5" x2="134.5" y2="504.6" stroke="#333333" stroke-width="1"/>
<text font-size="7.85" fill="#262626" stroke="#262626" stroke-width="0.2" text-anchor="middle" transform="translate(134.7 513.05) scale(1 1.1)">100</text>
<polyline points="76.6,466.46 77.76,463.63 79.5,465.05 82.41,460.98 105.65,459.5 134.7,458.69" fill="none" stroke="#7e7e7e" stroke-width="0.6"/>
<rect x="75.75" y="465.61" width="1.7" height="1.7" fill="#505050"/>
<rect x="76.91" y="462.78" width="1.7" height="1.7" fill="#505050"/>
<rect x="78.66" y="464.2" width="1.7" height="1.7" fill="#505050"/>
<rect x="81.56" y="460.13" width="1.7" height="1.7" fill="#505050"/>
<rect x="104.8" y="458.65" width="1.7" height="1.7" fill="#505050"/>
<rect x="133.85" y="457.84" width="1.7" height="1.7" fill="#505050"/>
<polyline points="76.6,467.41 77.18,467.17 79.5,474.02 82.41,476 105.65,470.1 134.7,464.34" fill="none" stroke="#cc3a44" stroke-width="0.6"/>
<rect x="75.35" y="466.16" width="2.5" height="2.5" fill="#b01820"/>
<rect x="75.93" y="465.92" width="2.5" height="2.5" fill="#b01820"/>
<rect x="78.25" y="472.77" width="2.5" height="2.5" fill="#b01820"/>
<rect x="81.16" y="474.75" width="2.5" height="2.5" fill="#b01820"/>
<rect x="104.4" y="468.85" width="2.5" height="2.5" fill="#b01820"/>
<rect x="133.45" y="463.09" width="2.5" height="2.5" fill="#b01820"/>
<text font-size="5.7" fill="#333333" stroke="#333333" stroke-width="0.14" text-anchor="end" transform="translate(142.6 485.5) scale(1 1.15)">IC50</text>
<text font-size="5.7" fill="#c8303c" stroke="#c8303c" stroke-width="0.22" text-anchor="end" transform="translate(144.1 492.5) scale(1 1.15)">hIEC:&gt; 100 µM</text>
<text font-size="5.7" fill="#7a7a7a" stroke="#7a7a7a" stroke-width="0.14" text-anchor="end" transform="translate(144.1 499.7) scale(1 1.15)">Caco-2:&gt; 100 µM</text>
<text font-size="10.35" fill="#1e1e1e" stroke="#1e1e1e" stroke-width="0.08" text-anchor="middle" transform="translate(196.9 443.2) scale(1 0.95)">Diclofenac</text>
<line x1="168.5" y1="449" x2="168.5" y2="503" stroke="#333333" stroke-width="1"/>
<line x1="168" y1="502.5" x2="226" y2="502.5" stroke="#333333" stroke-width="1"/>
<line x1="166.4" y1="502.5" x2="168.5" y2="502.5" stroke="#333333" stroke-width="1"/>
<text font-size="7.85" fill="#262626" stroke="#262626" stroke-width="0.2" text-anchor="end" transform="translate(165 505.21) scale(1 1.1)">0</text>
<line x1="166.4" y1="484.5" x2="168.5" y2="484.5" stroke="#333333" stroke-width="1"/>
<text font-size="7.85" fill="#262626" stroke="#262626" stroke-width="0.2" text-anchor="end" transform="translate(165 487.54) scale(1 1.1)">50</text>
<line x1="166.4" y1="467.5" x2="168.5" y2="467.5" stroke="#333333" stroke-width="1"/>
<text font-size="7.85" fill="#262626" stroke="#262626" stroke-width="0.2" text-anchor="end" transform="translate(165 469.88) scale(1 1.1)">100</text>
<line x1="166.4" y1="449.5" x2="168.5" y2="449.5" stroke="#333333" stroke-width="1"/>
<text font-size="7.85" fill="#262626" stroke="#262626" stroke-width="0.2" text-anchor="end" transform="translate(165 452.21) scale(1 1.1)">150</text>
<line x1="168.5" y1="502.5" x2="168.5" y2="504.6" stroke="#333333" stroke-width="1"/>
<text font-size="7.85" fill="#262626" stroke="#262626" stroke-width="0.2" text-anchor="middle" transform="translate(168 513.05) scale(1 1.1)">0</text>
<line x1="196.5" y1="502.5" x2="196.5" y2="504.6" stroke="#333333" stroke-width="1"/>
<text font-size="7.85" fill="#262626" stroke="#262626" stroke-width="0.2" text-anchor="middle" transform="translate(196.9 513.05) scale(1 1.1)">50</text>
<line x1="225.5" y1="502.5" x2="225.5" y2="504.6" stroke="#333333" stroke-width="1"/>
<text font-size="7.85" fill="#262626" stroke="#262626" stroke-width="0.2" text-anchor="middle" transform="translate(225.8 513.05) scale(1 1.1)">100</text>
<polyline points="168,467.17 173.78,467.87 196.9,467.52 225.8,467.52" fill="none" stroke="#7e7e7e" stroke-width="0.6"/>
<rect x="167.15" y="466.32" width="1.7" height="1.7" fill="#505050"/>
<rect x="172.93" y="467.02" width="1.7" height="1.7" fill="#505050"/>
<rect x="196.05" y="466.67" width="1.7" height="1.7" fill="#505050"/>
<rect x="224.95" y="466.67" width="1.7" height="1.7" fill="#505050"/>
<polyline points="168,467.17 168.58,466.46 170.89,467.52 173.78,468.23 196.9,476.35 225.8,475.29" fill="none" stroke="#cc3a44" stroke-width="0.6"/>
<line x1="168.58" y1="463.63" x2="168.58" y2="469.29" stroke="#c85058" stroke-width="0.6"/>
<line x1="167.68" y1="463.63" x2="169.48" y2="463.63" stroke="#c85058" stroke-width="0.6"/>
<line x1="167.68" y1="469.29" x2="169.48" y2="469.29" stroke="#c85058" stroke-width="0.6"/>
<line x1="173.78" y1="465.05" x2="173.78" y2="471.41" stroke="#c85058" stroke-width="0.6"/>
<line x1="172.88" y1="465.05" x2="174.68" y2="465.05" stroke="#c85058" stroke-width="0.6"/>
<line x1="172.88" y1="471.41" x2="174.68" y2="471.41" stroke="#c85058" stroke-width="0.6"/>
<line x1="225.8" y1="472.47" x2="225.8" y2="478.12" stroke="#c85058" stroke-width="0.6"/>
<line x1="224.9" y1="472.47" x2="226.7" y2="472.47" stroke="#c85058" stroke-width="0.6"/>
<line x1="224.9" y1="478.12" x2="226.7" y2="478.12" stroke="#c85058" stroke-width="0.6"/>
<rect x="166.75" y="465.92" width="2.5" height="2.5" fill="#b01820"/>
<rect x="167.33" y="465.21" width="2.5" height="2.5" fill="#b01820"/>
<rect x="169.64" y="466.27" width="2.5" height="2.5" fill="#b01820"/>
<rect x="172.53" y="466.98" width="2.5" height="2.5" fill="#b01820"/>
<rect x="195.65" y="475.1" width="2.5" height="2.5" fill="#b01820"/>
<rect x="224.55" y="474.04" width="2.5" height="2.5" fill="#b01820"/>
<text font-size="5.7" fill="#333333" stroke="#333333" stroke-width="0.14" text-anchor="end" transform="translate(234.2 485.5) scale(1 1.15)">IC50</text>
<text font-size="5.7" fill="#c8303c" stroke="#c8303c" stroke-width="0.22" text-anchor="end" transform="translate(235.7 492.5) scale(1 1.15)">hIEC: &gt; 100 µM</text>
<text font-size="5.7" fill="#7a7a7a" stroke="#7a7a7a" stroke-width="0.14" text-anchor="end" transform="translate(235.7 499.7) scale(1 1.15)">Caco-2: &gt; 100 µM</text>
<text font-size="10.35" fill="#1e1e1e" stroke="#1e1e1e" stroke-width="0.08" text-anchor="middle" transform="translate(289.75 443.2) scale(1 0.95)">Naproxen</text>
<line x1="284.33" y1="449.5" x2="284.33" y2="502.5" stroke="#d84a58" stroke-width="0.8" stroke-dasharray="0.7,0.6"/>
<rect x="259.5" y="449" width="2" height="53.5" fill="#999999"/>
<line x1="260" y1="502.5" x2="319" y2="502.5" stroke="#333333" stroke-width="1"/>
<line x1="258.4" y1="502.5" x2="260.5" y2="502.5" stroke="#333333" stroke-width="1"/>
<text font-size="7.85" fill="#262626" stroke="#262626" stroke-width="0.2" text-anchor="end" transform="translate(257.9 505.21) scale(1 1.1)">0</text>
<line x1="258.4" y1="484.5" x2="260.5" y2="484.5" stroke="#333333" stroke-width="1"/>
<text font-size="7.85" fill="#262626" stroke="#262626" stroke-width="0.2" text-anchor="end" transform="translate(257.9 487.54) scale(1 1.1)">50</text>
<line x1="258.4" y1="467.5" x2="260.5" y2="467.5" stroke="#333333" stroke-width="1"/>
<text font-size="7.85" fill="#262626" stroke="#262626" stroke-width="0.2" text-anchor="end" transform="translate(257.9 469.88) scale(1 1.1)">100</text>
<line x1="258.4" y1="449.5" x2="260.5" y2="449.5" stroke="#333333" stroke-width="1"/>
<text font-size="7.85" fill="#262626" stroke="#262626" stroke-width="0.2" text-anchor="end" transform="translate(257.9 452.21) scale(1 1.1)">150</text>
<line x1="260.5" y1="502.5" x2="260.5" y2="504.6" stroke="#333333" stroke-width="1"/>
<text font-size="7.85" fill="#262626" stroke="#262626" stroke-width="0.2" text-anchor="middle" transform="translate(260.9 513.05) scale(1 1.1)">0</text>
<line x1="289.5" y1="502.5" x2="289.5" y2="504.6" stroke="#333333" stroke-width="1"/>
<text font-size="7.85" fill="#262626" stroke="#262626" stroke-width="0.2" text-anchor="middle" transform="translate(289.75 513.05) scale(1 1.1)">50</text>
<line x1="318.5" y1="502.5" x2="318.5" y2="504.6" stroke="#333333" stroke-width="1"/>
<text font-size="7.85" fill="#262626" stroke="#262626" stroke-width="0.2" text-anchor="middle" transform="translate(318.6 513.05) scale(1 1.1)">100</text>
<polyline points="260.9,466.81 263.78,465.05 266.67,460.1 289.75,467.87 318.6,484.83" fill="none" stroke="#7e7e7e" stroke-width="0.6"/>
<line x1="260.9" y1="463.99" x2="260.9" y2="469.64" stroke="#8a8a8a" stroke-width="0.6"/>
<line x1="260" y1="463.99" x2="261.8" y2="463.99" stroke="#8a8a8a" stroke-width="0.6"/>
<line x1="260" y1="469.64" x2="261.8" y2="469.64" stroke="#8a8a8a" stroke-width="0.6"/>
<line x1="266.67" y1="458.69" x2="266.67" y2="461.51" stroke="#8a8a8a" stroke-width="0.6"/>
<line x1="265.77" y1="458.69" x2="267.57" y2="458.69" stroke="#8a8a8a" stroke-width="0.6"/>
<line x1="265.77" y1="461.51" x2="267.57" y2="461.51" stroke="#8a8a8a" stroke-width="0.6"/>
<line x1="289.75" y1="466.11" x2="289.75" y2="469.64" stroke="#8a8a8a" stroke-width="0.6"/>
<line x1="288.85" y1="466.11" x2="290.65" y2="466.11" stroke="#8a8a8a" stroke-width="0.6"/>
<line x1="288.85" y1="469.64" x2="290.65" y2="469.64" stroke="#8a8a8a" stroke-width="0.6"/>
<line x1="318.6" y1="480.95" x2="318.6" y2="488.72" stroke="#8a8a8a" stroke-width="0.6"/>
<line x1="317.7" y1="480.95" x2="319.5" y2="480.95" stroke="#8a8a8a" stroke-width="0.6"/>
<line x1="317.7" y1="488.72" x2="319.5" y2="488.72" stroke="#8a8a8a" stroke-width="0.6"/>
<rect x="260.05" y="465.96" width="1.7" height="1.7" fill="#505050"/>
<rect x="262.93" y="464.2" width="1.7" height="1.7" fill="#505050"/>
<rect x="265.82" y="459.25" width="1.7" height="1.7" fill="#505050"/>
<rect x="288.9" y="467.02" width="1.7" height="1.7" fill="#505050"/>
<rect x="317.75" y="483.98" width="1.7" height="1.7" fill="#505050"/>
<polyline points="260.9,467.17 261.48,474.59 263.78,480.77 266.67,479.89 289.75,484.13 318.6,484.48" fill="none" stroke="#cc3a44" stroke-width="0.6"/>
<line x1="263.78" y1="479" x2="263.78" y2="482.54" stroke="#c85058" stroke-width="0.6"/>
<line x1="262.88" y1="479" x2="264.68" y2="479" stroke="#c85058" stroke-width="0.6"/>
<line x1="262.88" y1="482.54" x2="264.68" y2="482.54" stroke="#c85058" stroke-width="0.6"/>
<rect x="259.65" y="465.92" width="2.5" height="2.5" fill="#b01820"/>
<rect x="260.23" y="473.34" width="2.5" height="2.5" fill="#b01820"/>
<rect x="262.53" y="479.52" width="2.5" height="2.5" fill="#b01820"/>
<rect x="265.42" y="478.64" width="2.5" height="2.5" fill="#b01820"/>
<rect x="288.5" y="482.88" width="2.5" height="2.5" fill="#b01820"/>
<rect x="317.35" y="483.23" width="2.5" height="2.5" fill="#b01820"/>
<text font-size="5.7" fill="#333333" stroke="#333333" stroke-width="0.14" text-anchor="end" transform="translate(327.4 452.6) scale(1 1.15)">IC50</text>
<text font-size="5.7" fill="#c8303c" stroke="#c8303c" stroke-width="0.22" text-anchor="end" transform="translate(328.9 459.4) scale(1 1.15)">hIEC:  44.8 µM</text>
<text font-size="5.7" fill="#7a7a7a" stroke="#7a7a7a" stroke-width="0.14" text-anchor="end" transform="translate(328.9 466.6) scale(1 1.15)">Caco-2:&gt; 100 µM</text>
<text font-size="10.35" fill="#1e1e1e" stroke="#1e1e1e" stroke-width="0.08" text-anchor="middle" transform="translate(378.95 443.2) scale(1 0.95)">Ketoprofen</text>
<line x1="395.68" y1="449.5" x2="395.68" y2="502.5" stroke="#d84a58" stroke-width="0.8" stroke-dasharray="0.7,0.6"/>
<line x1="350.5" y1="449" x2="350.5" y2="503" stroke="#333333" stroke-width="1"/>
<line x1="350" y1="502.5" x2="408" y2="502.5" stroke="#333333" stroke-width="1"/>
<line x1="348.4" y1="502.5" x2="350.5" y2="502.5" stroke="#333333" stroke-width="1"/>
<text font-size="7.85" fill="#262626" stroke="#262626" stroke-width="0.2" text-anchor="end" transform="translate(347.1 505.21) scale(1 1.1)">0</text>
<line x1="348.4" y1="484.5" x2="350.5" y2="484.5" stroke="#333333" stroke-width="1"/>
<text font-size="7.85" fill="#262626" stroke="#262626" stroke-width="0.2" text-anchor="end" transform="translate(347.1 487.54) scale(1 1.1)">50</text>
<line x1="348.4" y1="467.5" x2="350.5" y2="467.5" stroke="#333333" stroke-width="1"/>
<text font-size="7.85" fill="#262626" stroke="#262626" stroke-width="0.2" text-anchor="end" transform="translate(347.1 469.88) scale(1 1.1)">100</text>
<line x1="348.4" y1="449.5" x2="350.5" y2="449.5" stroke="#333333" stroke-width="1"/>
<text font-size="7.85" fill="#262626" stroke="#262626" stroke-width="0.2" text-anchor="end" transform="translate(347.1 452.21) scale(1 1.1)">150</text>
<line x1="350.5" y1="502.5" x2="350.5" y2="504.6" stroke="#333333" stroke-width="1"/>
<text font-size="7.85" fill="#262626" stroke="#262626" stroke-width="0.2" text-anchor="middle" transform="translate(350.1 513.05) scale(1 1.1)">0</text>
<line x1="378.5" y1="502.5" x2="378.5" y2="504.6" stroke="#333333" stroke-width="1"/>
<text font-size="7.85" fill="#262626" stroke="#262626" stroke-width="0.2" text-anchor="middle" transform="translate(378.95 513.05) scale(1 1.1)">50</text>
<line x1="407.5" y1="502.5" x2="407.5" y2="504.6" stroke="#333333" stroke-width="1"/>
<text font-size="7.85" fill="#262626" stroke="#262626" stroke-width="0.2" text-anchor="middle" transform="translate(407.8 513.05) scale(1 1.1)">100</text>
<polyline points="350.1,466.46 352.99,461.16 355.87,457.98 378.95,472.11 407.8,488.72" fill="none" stroke="#7e7e7e" stroke-width="0.6"/>
<line x1="355.87" y1="453.03" x2="355.87" y2="462.93" stroke="#8a8a8a" stroke-width="0.6"/>
<line x1="354.97" y1="453.03" x2="356.77" y2="453.03" stroke="#8a8a8a" stroke-width="0.6"/>
<line x1="354.97" y1="462.93" x2="356.77" y2="462.93" stroke="#8a8a8a" stroke-width="0.6"/>
<line x1="407.8" y1="486.6" x2="407.8" y2="490.84" stroke="#8a8a8a" stroke-width="0.6"/>
<line x1="406.9" y1="486.6" x2="408.7" y2="486.6" stroke="#8a8a8a" stroke-width="0.6"/>
<line x1="406.9" y1="490.84" x2="408.7" y2="490.84" stroke="#8a8a8a" stroke-width="0.6"/>
<line x1="352.99" y1="458.33" x2="352.99" y2="463.99" stroke="#8a8a8a" stroke-width="0.6"/>
<line x1="352.09" y1="458.33" x2="353.88" y2="458.33" stroke="#8a8a8a" stroke-width="0.6"/>
<line x1="352.09" y1="463.99" x2="353.88" y2="463.99" stroke="#8a8a8a" stroke-width="0.6"/>
<rect x="349.25" y="465.61" width="1.7" height="1.7" fill="#505050"/>
<rect x="352.13" y="460.31" width="1.7" height="1.7" fill="#505050"/>
<rect x="355.02" y="457.13" width="1.7" height="1.7" fill="#505050"/>
<rect x="378.1" y="471.26" width="1.7" height="1.7" fill="#505050"/>
<rect x="406.95" y="487.87" width="1.7" height="1.7" fill="#505050"/>
<polyline points="350.1,467.17 350.68,471.41 352.99,477.77 355.87,476 378.95,478.47 407.8,484.83" fill="none" stroke="#cc3a44" stroke-width="0.6"/>
<line x1="352.99" y1="474.59" x2="352.99" y2="480.95" stroke="#c85058" stroke-width="0.6"/>
<line x1="352.09" y1="474.59" x2="353.88" y2="474.59" stroke="#c85058" stroke-width="0.6"/>
<line x1="352.09" y1="480.95" x2="353.88" y2="480.95" stroke="#c85058" stroke-width="0.6"/>
<line x1="355.87" y1="472.47" x2="355.87" y2="479.53" stroke="#c85058" stroke-width="0.6"/>
<line x1="354.97" y1="472.47" x2="356.77" y2="472.47" stroke="#c85058" stroke-width="0.6"/>
<line x1="354.97" y1="479.53" x2="356.77" y2="479.53" stroke="#c85058" stroke-width="0.6"/>
<line x1="378.95" y1="474.94" x2="378.95" y2="482.01" stroke="#c85058" stroke-width="0.6"/>
<line x1="378.05" y1="474.94" x2="379.85" y2="474.94" stroke="#c85058" stroke-width="0.6"/>
<line x1="378.05" y1="482.01" x2="379.85" y2="482.01" stroke="#c85058" stroke-width="0.6"/>
<rect x="348.85" y="465.92" width="2.5" height="2.5" fill="#b01820"/>
<rect x="349.43" y="470.16" width="2.5" height="2.5" fill="#b01820"/>
<rect x="351.74" y="476.52" width="2.5" height="2.5" fill="#b01820"/>
<rect x="354.62" y="474.75" width="2.5" height="2.5" fill="#b01820"/>
<rect x="377.7" y="477.22" width="2.5" height="2.5" fill="#b01820"/>
<rect x="406.55" y="483.58" width="2.5" height="2.5" fill="#b01820"/>
<text font-size="5.7" fill="#333333" stroke="#333333" stroke-width="0.14" text-anchor="end" transform="translate(414.2 452.6) scale(1 1.15)">IC50</text>
<text font-size="5.7" fill="#c8303c" stroke="#c8303c" stroke-width="0.22" text-anchor="end" transform="translate(415.7 459.4) scale(1 1.15)">hIEC:      80 µM</text>
<text font-size="5.7" fill="#7a7a7a" stroke="#7a7a7a" stroke-width="0.14" text-anchor="end" transform="translate(415.7 466.6) scale(1 1.15)">Caco-2:&gt; 100 µM</text>
<text font-size="10.35" fill="#1e1e1e" stroke="#1e1e1e" stroke-width="0.08" text-anchor="middle" transform="translate(469.25 443.2) scale(1 0.95)">Ketorolac</text>
<line x1="440.5" y1="449" x2="440.5" y2="503" stroke="#333333" stroke-width="1"/>
<line x1="440" y1="502.5" x2="499" y2="502.5" stroke="#333333" stroke-width="1"/>
<line x1="438.4" y1="502.5" x2="440.5" y2="502.5" stroke="#333333" stroke-width="1"/>
<text font-size="7.85" fill="#262626" stroke="#262626" stroke-width="0.2" text-anchor="end" transform="translate(437.4 505.21) scale(1 1.1)">0</text>
<line x1="438.4" y1="484.5" x2="440.5" y2="484.5" stroke="#333333" stroke-width="1"/>
<text font-size="7.85" fill="#262626" stroke="#262626" stroke-width="0.2" text-anchor="end" transform="translate(437.4 487.54) scale(1 1.1)">50</text>
<line x1="438.4" y1="467.5" x2="440.5" y2="467.5" stroke="#333333" stroke-width="1"/>
<text font-size="7.85" fill="#262626" stroke="#262626" stroke-width="0.2" text-anchor="end" transform="translate(437.4 469.88) scale(1 1.1)">100</text>
<line x1="438.4" y1="449.5" x2="440.5" y2="449.5" stroke="#333333" stroke-width="1"/>
<text font-size="7.85" fill="#262626" stroke="#262626" stroke-width="0.2" text-anchor="end" transform="translate(437.4 452.21) scale(1 1.1)">150</text>
<line x1="440.5" y1="502.5" x2="440.5" y2="504.6" stroke="#333333" stroke-width="1"/>
<text font-size="7.85" fill="#262626" stroke="#262626" stroke-width="0.2" text-anchor="middle" transform="translate(440.4 513.05) scale(1 1.1)">0</text>
<line x1="469.5" y1="502.5" x2="469.5" y2="504.6" stroke="#333333" stroke-width="1"/>
<text font-size="7.85" fill="#262626" stroke="#262626" stroke-width="0.2" text-anchor="middle" transform="translate(469.25 513.05) scale(1 1.1)">50</text>
<line x1="498.5" y1="502.5" x2="498.5" y2="504.6" stroke="#333333" stroke-width="1"/>
<text font-size="7.85" fill="#262626" stroke="#262626" stroke-width="0.2" text-anchor="middle" transform="translate(498.1 513.05) scale(1 1.1)">100</text>
<polyline points="440.4,466.11 446.17,465.75 469.25,466.81 498.1,472.11" fill="none" stroke="#7e7e7e" stroke-width="0.6"/>
<rect x="439.55" y="465.26" width="1.7" height="1.7" fill="#505050"/>
<rect x="445.32" y="464.9" width="1.7" height="1.7" fill="#505050"/>
<rect x="468.4" y="465.96" width="1.7" height="1.7" fill="#505050"/>
<rect x="497.25" y="471.26" width="1.7" height="1.7" fill="#505050"/>
<polyline points="440.4,467.17 440.98,464.34 443.28,467.52 446.17,469.29 469.25,469.99 498.1,471.05" fill="none" stroke="#cc3a44" stroke-width="0.6"/>
<line x1="469.25" y1="467.87" x2="469.25" y2="472.11" stroke="#c85058" stroke-width="0.6"/>
<line x1="468.35" y1="467.87" x2="470.15" y2="467.87" stroke="#c85058" stroke-width="0.6"/>
<line x1="468.35" y1="472.11" x2="470.15" y2="472.11" stroke="#c85058" stroke-width="0.6"/>
<line x1="498.1" y1="468.58" x2="498.1" y2="473.53" stroke="#c85058" stroke-width="0.6"/>
<line x1="497.2" y1="468.58" x2="499" y2="468.58" stroke="#c85058" stroke-width="0.6"/>
<line x1="497.2" y1="473.53" x2="499" y2="473.53" stroke="#c85058" stroke-width="0.6"/>
<rect x="439.15" y="465.92" width="2.5" height="2.5" fill="#b01820"/>
<rect x="439.73" y="463.09" width="2.5" height="2.5" fill="#b01820"/>
<rect x="442.03" y="466.27" width="2.5" height="2.5" fill="#b01820"/>
<rect x="444.92" y="468.04" width="2.5" height="2.5" fill="#b01820"/>
<rect x="468" y="468.74" width="2.5" height="2.5" fill="#b01820"/>
<rect x="496.85" y="469.8" width="2.5" height="2.5" fill="#b01820"/>
<text font-size="5.7" fill="#333333" stroke="#333333" stroke-width="0.14" text-anchor="end" transform="translate(505.8 452.6) scale(1 1.15)">IC50</text>
<text font-size="5.7" fill="#c8303c" stroke="#c8303c" stroke-width="0.22" text-anchor="end" transform="translate(507.3 459.4) scale(1 1.15)">hIEC:&gt; 100 µM</text>
<text font-size="5.7" fill="#7a7a7a" stroke="#7a7a7a" stroke-width="0.14" text-anchor="end" transform="translate(507.3 466.6) scale(1 1.15)">Caco-2:&gt; 100 µM</text>
<text font-size="10.35" fill="#1e1e1e" stroke="#1e1e1e" stroke-width="0.08" text-anchor="middle" transform="translate(106.4 541.6) scale(1 0.95)">Ibuprofen</text>
<line x1="77.5" y1="549" x2="77.5" y2="602" stroke="#333333" stroke-width="1"/>
<line x1="77" y1="601.5" x2="136" y2="601.5" stroke="#333333" stroke-width="1"/>
<line x1="75.4" y1="601.5" x2="77.5" y2="601.5" stroke="#333333" stroke-width="1"/>
<text font-size="7.85" fill="#262626" stroke="#262626" stroke-width="0.2" text-anchor="end" transform="translate(74.3 604.21) scale(1 1.1)">0</text>
<line x1="75.4" y1="584.5" x2="77.5" y2="584.5" stroke="#333333" stroke-width="1"/>
<text font-size="7.85" fill="#262626" stroke="#262626" stroke-width="0.2" text-anchor="end" transform="translate(74.3 586.81) scale(1 1.1)">50</text>
<line x1="75.4" y1="566.5" x2="77.5" y2="566.5" stroke="#333333" stroke-width="1"/>
<text font-size="7.85" fill="#262626" stroke="#262626" stroke-width="0.2" text-anchor="end" transform="translate(74.3 569.41) scale(1 1.1)">100</text>
<line x1="75.4" y1="549.5" x2="77.5" y2="549.5" stroke="#333333" stroke-width="1"/>
<text font-size="7.85" fill="#262626" stroke="#262626" stroke-width="0.2" text-anchor="end" transform="translate(74.3 552.01) scale(1 1.1)">150</text>
<line x1="77.5" y1="601.5" x2="77.5" y2="603.6" stroke="#333333" stroke-width="1"/>
<text font-size="7.85" fill="#262626" stroke="#262626" stroke-width="0.2" text-anchor="middle" transform="translate(77.3 612.05) scale(1 1.1)">0</text>
<line x1="106.5" y1="601.5" x2="106.5" y2="603.6" stroke="#333333" stroke-width="1"/>
<text font-size="7.85" fill="#262626" stroke="#262626" stroke-width="0.2" text-anchor="middle" transform="translate(106.4 612.05) scale(1 1.1)">50</text>
<line x1="135.5" y1="601.5" x2="135.5" y2="603.6" stroke="#333333" stroke-width="1"/>
<text font-size="7.85" fill="#262626" stroke="#262626" stroke-width="0.2" text-anchor="middle" transform="translate(135.5 612.05) scale(1 1.1)">100</text>
<polyline points="77.3,567.05 79.63,569.48 83.12,567.74 106.4,569.28 135.5,574.81" fill="none" stroke="#7e7e7e" stroke-width="0.6"/>
<line x1="135.5" y1="573.42" x2="135.5" y2="576.2" stroke="#8a8a8a" stroke-width="0.6"/>
<line x1="134.6" y1="573.42" x2="136.4" y2="573.42" stroke="#8a8a8a" stroke-width="0.6"/>
<line x1="134.6" y1="576.2" x2="136.4" y2="576.2" stroke="#8a8a8a" stroke-width="0.6"/>
<rect x="76.45" y="566.2" width="1.7" height="1.7" fill="#505050"/>
<rect x="78.78" y="568.63" width="1.7" height="1.7" fill="#505050"/>
<rect x="82.27" y="566.89" width="1.7" height="1.7" fill="#505050"/>
<rect x="105.55" y="568.43" width="1.7" height="1.7" fill="#505050"/>
<rect x="134.65" y="573.96" width="1.7" height="1.7" fill="#505050"/>
<polyline points="77.3,566.42 79.63,566.35 83.12,562.52 106.4,559.39 135.5,567.05" fill="none" stroke="#cc3a44" stroke-width="0.6"/>
<rect x="76.05" y="565.17" width="2.5" height="2.5" fill="#b01820"/>
<rect x="78.38" y="565.1" width="2.5" height="2.5" fill="#b01820"/>
<rect x="81.87" y="561.27" width="2.5" height="2.5" fill="#b01820"/>
<rect x="105.15" y="558.14" width="2.5" height="2.5" fill="#b01820"/>
<rect x="134.25" y="565.8" width="2.5" height="2.5" fill="#b01820"/>
<text font-size="5.7" fill="#333333" stroke="#333333" stroke-width="0.14" text-anchor="end" transform="translate(142.2 583.5) scale(1 1.15)">IC50</text>
<text font-size="5.7" fill="#c8303c" stroke="#c8303c" stroke-width="0.22" text-anchor="end" transform="translate(143.7 590.6) scale(1 1.15)">hIEC:&gt; 100 µM</text>
<text font-size="5.7" fill="#7a7a7a" stroke="#7a7a7a" stroke-width="0.14" text-anchor="end" transform="translate(143.7 598) scale(1 1.15)">Caco-2:&gt; 100 µM</text>
<text font-size="10.35" fill="#1e1e1e" stroke="#1e1e1e" stroke-width="0.08" text-anchor="middle" transform="translate(197.35 541.6) scale(1 0.95)">Diclofenac</text>
<line x1="168.5" y1="549" x2="168.5" y2="602" stroke="#333333" stroke-width="1"/>
<line x1="168" y1="601.5" x2="227" y2="601.5" stroke="#333333" stroke-width="1"/>
<line x1="166.4" y1="601.5" x2="168.5" y2="601.5" stroke="#333333" stroke-width="1"/>
<text font-size="7.85" fill="#262626" stroke="#262626" stroke-width="0.2" text-anchor="end" transform="translate(165.5 604.21) scale(1 1.1)">0</text>
<line x1="166.4" y1="584.5" x2="168.5" y2="584.5" stroke="#333333" stroke-width="1"/>
<text font-size="7.85" fill="#262626" stroke="#262626" stroke-width="0.2" text-anchor="end" transform="translate(165.5 586.81) scale(1 1.1)">50</text>
<line x1="166.4" y1="566.5" x2="168.5" y2="566.5" stroke="#333333" stroke-width="1"/>
<text font-size="7.85" fill="#262626" stroke="#262626" stroke-width="0.2" text-anchor="end" transform="translate(165.5 569.41) scale(1 1.1)">100</text>
<line x1="166.4" y1="549.5" x2="168.5" y2="549.5" stroke="#333333" stroke-width="1"/>
<text font-size="7.85" fill="#262626" stroke="#262626" stroke-width="0.2" text-anchor="end" transform="translate(165.5 552.01) scale(1 1.1)">150</text>
<line x1="168.5" y1="601.5" x2="168.5" y2="603.6" stroke="#333333" stroke-width="1"/>
<text font-size="7.85" fill="#262626" stroke="#262626" stroke-width="0.2" text-anchor="middle" transform="translate(168.5 612.05) scale(1 1.1)">0</text>
<line x1="197.5" y1="601.5" x2="197.5" y2="603.6" stroke="#333333" stroke-width="1"/>
<text font-size="7.85" fill="#262626" stroke="#262626" stroke-width="0.2" text-anchor="middle" transform="translate(197.35 612.05) scale(1 1.1)">50</text>
<line x1="226.5" y1="601.5" x2="226.5" y2="603.6" stroke="#333333" stroke-width="1"/>
<text font-size="7.85" fill="#262626" stroke="#262626" stroke-width="0.2" text-anchor="middle" transform="translate(226.2 612.05) scale(1 1.1)">100</text>
<polyline points="168.5,567.05 171.38,567.4 174.27,566 197.35,567.05 226.2,571.57" fill="none" stroke="#7e7e7e" stroke-width="0.6"/>
<rect x="167.65" y="566.2" width="1.7" height="1.7" fill="#505050"/>
<rect x="170.53" y="566.55" width="1.7" height="1.7" fill="#505050"/>
<rect x="173.42" y="565.15" width="1.7" height="1.7" fill="#505050"/>
<rect x="196.5" y="566.2" width="1.7" height="1.7" fill="#505050"/>
<rect x="225.35" y="570.72" width="1.7" height="1.7" fill="#505050"/>
<polyline points="168.5,566.35 171.38,564.61 174.27,565.31 197.35,563.22 226.2,567.74" fill="none" stroke="#cc3a44" stroke-width="0.6"/>
<line x1="197.35" y1="561.48" x2="197.35" y2="564.96" stroke="#c85058" stroke-width="0.6"/>
<line x1="196.45" y1="561.48" x2="198.25" y2="561.48" stroke="#c85058" stroke-width="0.6"/>
<line x1="196.45" y1="564.96" x2="198.25" y2="564.96" stroke="#c85058" stroke-width="0.6"/>
<rect x="167.25" y="565.1" width="2.5" height="2.5" fill="#b01820"/>
<rect x="170.13" y="563.36" width="2.5" height="2.5" fill="#b01820"/>
<rect x="173.02" y="564.06" width="2.5" height="2.5" fill="#b01820"/>
<rect x="196.1" y="561.97" width="2.5" height="2.5" fill="#b01820"/>
<rect x="224.95" y="566.49" width="2.5" height="2.5" fill="#b01820"/>
<text font-size="5.7" fill="#333333" stroke="#333333" stroke-width="0.14" text-anchor="end" transform="translate(234.2 583.5) scale(1 1.15)">IC50</text>
<text font-size="5.7" fill="#c8303c" stroke="#c8303c" stroke-width="0.22" text-anchor="end" transform="translate(235.7 590.6) scale(1 1.15)">hIEC: &gt; 100 µM</text>
<text font-size="5.7" fill="#7a7a7a" stroke="#7a7a7a" stroke-width="0.14" text-anchor="end" transform="translate(235.7 598) scale(1 1.15)">Caco-2: &gt; 100 µM</text>
<text font-size="10.35" fill="#1e1e1e" stroke="#1e1e1e" stroke-width="0.08" text-anchor="middle" transform="translate(289.1 541.6) scale(1 0.95)">Naproxen</text>
<line x1="260.5" y1="549" x2="260.5" y2="602" stroke="#333333" stroke-width="1"/>
<line x1="260" y1="601.5" x2="319" y2="601.5" stroke="#333333" stroke-width="1"/>
<line x1="258.4" y1="601.5" x2="260.5" y2="601.5" stroke="#333333" stroke-width="1"/>
<text font-size="7.85" fill="#262626" stroke="#262626" stroke-width="0.2" text-anchor="end" transform="translate(257.1 604.21) scale(1 1.1)">0</text>
<line x1="258.4" y1="584.5" x2="260.5" y2="584.5" stroke="#333333" stroke-width="1"/>
<text font-size="7.85" fill="#262626" stroke="#262626" stroke-width="0.2" text-anchor="end" transform="translate(257.1 586.81) scale(1 1.1)">50</text>
<line x1="258.4" y1="566.5" x2="260.5" y2="566.5" stroke="#333333" stroke-width="1"/>
<text font-size="7.85" fill="#262626" stroke="#262626" stroke-width="0.2" text-anchor="end" transform="translate(257.1 569.41) scale(1 1.1)">100</text>
<line x1="258.4" y1="549.5" x2="260.5" y2="549.5" stroke="#333333" stroke-width="1"/>
<text font-size="7.85" fill="#262626" stroke="#262626" stroke-width="0.2" text-anchor="end" transform="translate(257.1 552.01) scale(1 1.1)">150</text>
<line x1="260.5" y1="601.5" x2="260.5" y2="603.6" stroke="#333333" stroke-width="1"/>
<text font-size="7.85" fill="#262626" stroke="#262626" stroke-width="0.2" text-anchor="middle" transform="translate(260.1 612.05) scale(1 1.1)">0</text>
<line x1="289.5" y1="601.5" x2="289.5" y2="603.6" stroke="#333333" stroke-width="1"/>
<text font-size="7.85" fill="#262626" stroke="#262626" stroke-width="0.2" text-anchor="middle" transform="translate(289.1 612.05) scale(1 1.1)">50</text>
<line x1="318.5" y1="601.5" x2="318.5" y2="603.6" stroke="#333333" stroke-width="1"/>
<text font-size="7.85" fill="#262626" stroke="#262626" stroke-width="0.2" text-anchor="middle" transform="translate(318.1 612.05) scale(1 1.1)">100</text>
<polyline points="260.1,566.7 263,566.35 265.9,568.09 289.1,570.53 318.1,578.53" fill="none" stroke="#7e7e7e" stroke-width="0.6"/>
<line x1="289.1" y1="568.79" x2="289.1" y2="572.27" stroke="#8a8a8a" stroke-width="0.6"/>
<line x1="288.2" y1="568.79" x2="290" y2="568.79" stroke="#8a8a8a" stroke-width="0.6"/>
<line x1="288.2" y1="572.27" x2="290" y2="572.27" stroke="#8a8a8a" stroke-width="0.6"/>
<rect x="259.25" y="565.85" width="1.7" height="1.7" fill="#505050"/>
<rect x="262.15" y="565.5" width="1.7" height="1.7" fill="#505050"/>
<rect x="265.05" y="567.24" width="1.7" height="1.7" fill="#505050"/>
<rect x="288.25" y="569.68" width="1.7" height="1.7" fill="#505050"/>
<rect x="317.25" y="577.68" width="1.7" height="1.7" fill="#505050"/>
<polyline points="260.1,566.7 260.68,563.92 263,565.31 265.9,565.31 289.1,566.35 318.1,571.92" fill="none" stroke="#cc3a44" stroke-width="0.6"/>
<rect x="258.85" y="565.45" width="2.5" height="2.5" fill="#b01820"/>
<rect x="259.43" y="562.67" width="2.5" height="2.5" fill="#b01820"/>
<rect x="261.75" y="564.06" width="2.5" height="2.5" fill="#b01820"/>
<rect x="264.65" y="564.06" width="2.5" height="2.5" fill="#b01820"/>
<rect x="287.85" y="565.1" width="2.5" height="2.5" fill="#b01820"/>
<rect x="316.85" y="570.67" width="2.5" height="2.5" fill="#b01820"/>
<text font-size="5.7" fill="#333333" stroke="#333333" stroke-width="0.14" text-anchor="end" transform="translate(325.8 583.5) scale(1 1.15)">IC50</text>
<text font-size="5.7" fill="#c8303c" stroke="#c8303c" stroke-width="0.22" text-anchor="end" transform="translate(327.3 590.6) scale(1 1.15)">hIEC:&gt; 100 µM</text>
<text font-size="5.7" fill="#7a7a7a" stroke="#7a7a7a" stroke-width="0.14" text-anchor="end" transform="translate(327.3 598) scale(1 1.15)">Caco-2:&gt; 100 µM</text>
<text font-size="10.35" fill="#1e1e1e" stroke="#1e1e1e" stroke-width="0.08" text-anchor="middle" transform="translate(377.7 541.6) scale(1 0.95)">Ketoprofen</text>
<line x1="348.5" y1="549" x2="348.5" y2="602" stroke="#333333" stroke-width="1"/>
<line x1="348" y1="601.5" x2="407" y2="601.5" stroke="#333333" stroke-width="1"/>
<line x1="346.4" y1="601.5" x2="348.5" y2="601.5" stroke="#333333" stroke-width="1"/>
<text font-size="7.85" fill="#262626" stroke="#262626" stroke-width="0.2" text-anchor="end" transform="translate(345.8 604.21) scale(1 1.1)">0</text>
<line x1="346.4" y1="584.5" x2="348.5" y2="584.5" stroke="#333333" stroke-width="1"/>
<text font-size="7.85" fill="#262626" stroke="#262626" stroke-width="0.2" text-anchor="end" transform="translate(345.8 586.81) scale(1 1.1)">50</text>
<line x1="346.4" y1="566.5" x2="348.5" y2="566.5" stroke="#333333" stroke-width="1"/>
<text font-size="7.85" fill="#262626" stroke="#262626" stroke-width="0.2" text-anchor="end" transform="translate(345.8 569.41) scale(1 1.1)">100</text>
<line x1="346.4" y1="549.5" x2="348.5" y2="549.5" stroke="#333333" stroke-width="1"/>
<text font-size="7.85" fill="#262626" stroke="#262626" stroke-width="0.2" text-anchor="end" transform="translate(345.8 552.01) scale(1 1.1)">150</text>
<line x1="348.5" y1="601.5" x2="348.5" y2="603.6" stroke="#333333" stroke-width="1"/>
<text font-size="7.85" fill="#262626" stroke="#262626" stroke-width="0.2" text-anchor="middle" transform="translate(348.8 612.05) scale(1 1.1)">0</text>
<line x1="377.5" y1="601.5" x2="377.5" y2="603.6" stroke="#333333" stroke-width="1"/>
<text font-size="7.85" fill="#262626" stroke="#262626" stroke-width="0.2" text-anchor="middle" transform="translate(377.7 612.05) scale(1 1.1)">50</text>
<line x1="406.5" y1="601.5" x2="406.5" y2="603.6" stroke="#333333" stroke-width="1"/>
<text font-size="7.85" fill="#262626" stroke="#262626" stroke-width="0.2" text-anchor="middle" transform="translate(406.6 612.05) scale(1 1.1)">100</text>
<polyline points="348.8,567.05 351.69,567.74 354.58,568.09 377.7,573.66 406.6,579.92" fill="none" stroke="#7e7e7e" stroke-width="0.6"/>
<rect x="347.95" y="566.2" width="1.7" height="1.7" fill="#505050"/>
<rect x="350.84" y="566.89" width="1.7" height="1.7" fill="#505050"/>
<rect x="353.73" y="567.24" width="1.7" height="1.7" fill="#505050"/>
<rect x="376.85" y="572.81" width="1.7" height="1.7" fill="#505050"/>
<rect x="405.75" y="579.07" width="1.7" height="1.7" fill="#505050"/>
<polyline points="348.8,566.35 349.38,565.31 351.69,565.31 354.58,564.96 377.7,565.66 406.6,572.62" fill="none" stroke="#cc3a44" stroke-width="0.6"/>
<rect x="347.55" y="565.1" width="2.5" height="2.5" fill="#b01820"/>
<rect x="348.13" y="564.06" width="2.5" height="2.5" fill="#b01820"/>
<rect x="350.44" y="564.06" width="2.5" height="2.5" fill="#b01820"/>
<rect x="353.33" y="563.71" width="2.5" height="2.5" fill="#b01820"/>
<rect x="376.45" y="564.41" width="2.5" height="2.5" fill="#b01820"/>
<rect x="405.35" y="571.37" width="2.5" height="2.5" fill="#b01820"/>
<text font-size="5.7" fill="#333333" stroke="#333333" stroke-width="0.14" text-anchor="end" transform="translate(414.2 583.5) scale(1 1.15)">IC50</text>
<text font-size="5.7" fill="#c8303c" stroke="#c8303c" stroke-width="0.22" text-anchor="end" transform="translate(415.7 590.6) scale(1 1.15)">hIEC:&gt; 100 µM</text>
<text font-size="5.7" fill="#7a7a7a" stroke="#7a7a7a" stroke-width="0.14" text-anchor="end" transform="translate(415.7 598) scale(1 1.15)">Caco-2:&gt; 100 µM</text>
<text font-size="10.35" fill="#1e1e1e" stroke="#1e1e1e" stroke-width="0.08" text-anchor="middle" transform="translate(469.3 541.6) scale(1 0.95)">Ketorolac</text>
<line x1="440.5" y1="549" x2="440.5" y2="602" stroke="#333333" stroke-width="1"/>
<line x1="440" y1="601.5" x2="499" y2="601.5" stroke="#333333" stroke-width="1"/>
<line x1="438.4" y1="601.5" x2="440.5" y2="601.5" stroke="#333333" stroke-width="1"/>
<text font-size="7.85" fill="#262626" stroke="#262626" stroke-width="0.2" text-anchor="end" transform="translate(437.5 604.21) scale(1 1.1)">0</text>
<line x1="438.4" y1="584.5" x2="440.5" y2="584.5" stroke="#333333" stroke-width="1"/>
<text font-size="7.85" fill="#262626" stroke="#262626" stroke-width="0.2" text-anchor="end" transform="translate(437.5 586.81) scale(1 1.1)">50</text>
<line x1="438.4" y1="566.5" x2="440.5" y2="566.5" stroke="#333333" stroke-width="1"/>
<text font-size="7.85" fill="#262626" stroke="#262626" stroke-width="0.2" text-anchor="end" transform="translate(437.5 569.41) scale(1 1.1)">100</text>
<line x1="438.4" y1="549.5" x2="440.5" y2="549.5" stroke="#333333" stroke-width="1"/>
<text font-size="7.85" fill="#262626" stroke="#262626" stroke-width="0.2" text-anchor="end" transform="translate(437.5 552.01) scale(1 1.1)">150</text>
<line x1="440.5" y1="601.5" x2="440.5" y2="603.6" stroke="#333333" stroke-width="1"/>
<text font-size="7.85" fill="#262626" stroke="#262626" stroke-width="0.2" text-anchor="middle" transform="translate(440.5 612.05) scale(1 1.1)">0</text>
<line x1="469.5" y1="601.5" x2="469.5" y2="603.6" stroke="#333333" stroke-width="1"/>
<text font-size="7.85" fill="#262626" stroke="#262626" stroke-width="0.2" text-anchor="middle" transform="translate(469.3 612.05) scale(1 1.1)">50</text>
<line x1="498.5" y1="601.5" x2="498.5" y2="603.6" stroke="#333333" stroke-width="1"/>
<text font-size="7.85" fill="#262626" stroke="#262626" stroke-width="0.2" text-anchor="middle" transform="translate(498.1 612.05) scale(1 1.1)">100</text>
<polyline points="440.5,567.05 443.38,569.14 446.26,571.22 469.3,574.01 498.1,576.44" fill="none" stroke="#7e7e7e" stroke-width="0.6"/>
<rect x="439.65" y="566.2" width="1.7" height="1.7" fill="#505050"/>
<rect x="442.53" y="568.29" width="1.7" height="1.7" fill="#505050"/>
<rect x="445.41" y="570.37" width="1.7" height="1.7" fill="#505050"/>
<rect x="468.45" y="573.16" width="1.7" height="1.7" fill="#505050"/>
<rect x="497.25" y="575.59" width="1.7" height="1.7" fill="#505050"/>
<polyline points="440.5,566.7 441.08,565.66 443.38,565.31 446.26,564.96 469.3,565.66 498.1,572.27" fill="none" stroke="#cc3a44" stroke-width="0.6"/>
<rect x="439.25" y="565.45" width="2.5" height="2.5" fill="#b01820"/>
<rect x="439.83" y="564.41" width="2.5" height="2.5" fill="#b01820"/>
<rect x="442.13" y="564.06" width="2.5" height="2.5" fill="#b01820"/>
<rect x="445.01" y="563.71" width="2.5" height="2.5" fill="#b01820"/>
<rect x="468.05" y="564.41" width="2.5" height="2.5" fill="#b01820"/>
<rect x="496.85" y="571.02" width="2.5" height="2.5" fill="#b01820"/>
<text font-size="5.7" fill="#333333" stroke="#333333" stroke-width="0.14" text-anchor="end" transform="translate(504.5 583.5) scale(1 1.15)">IC50</text>
<text font-size="5.7" fill="#c8303c" stroke="#c8303c" stroke-width="0.22" text-anchor="end" transform="translate(506 590.6) scale(1 1.15)">hIEC:&gt; 100 µM</text>
<text font-size="5.7" fill="#7a7a7a" stroke="#7a7a7a" stroke-width="0.14" text-anchor="end" transform="translate(506 598) scale(1 1.15)">Caco-2:&gt; 100 µM</text>
<text font-size="12.8" fill="#111" stroke="#111" stroke-width="0.1" font-weight="bold" transform="translate(0.5 9.8)">a</text>
<text font-size="12.8" fill="#111" stroke="#111" stroke-width="0.1" font-weight="bold" transform="translate(0.3 214.7)">b</text>
<text font-size="12.8" fill="#111" stroke="#111" stroke-width="0.1" font-weight="bold" transform="translate(0.5 430)">c</text>
<text font-size="11.7" fill="#1e1e1e" stroke="#1e1e1e" stroke-width="0.1" text-anchor="middle" transform="translate(26.3 95.3) rotate(-90) scale(1 1.08)">Cell Cycle Arresters</text>
<text font-size="11.7" fill="#1e1e1e" stroke="#1e1e1e" stroke-width="0.1" text-anchor="middle" transform="translate(19.2 306.9) rotate(-90) scale(1 1.08)">Tyrosine kinase inhibitors</text>
<text font-size="11.7" fill="#1e1e1e" stroke="#1e1e1e" stroke-width="0.1" text-anchor="middle" transform="translate(33.8 306.9) rotate(-90) scale(1 1.08)">(TKIs)</text>
<text font-size="11.7" fill="#1e1e1e" stroke="#1e1e1e" stroke-width="0.1" text-anchor="middle" transform="translate(19.2 521.8) rotate(-90) scale(1 1.08)">Cyclooxygenase inhibitors</text>
<text font-size="11.7" fill="#1e1e1e" stroke="#1e1e1e" stroke-width="0.1" text-anchor="middle" transform="translate(33.8 521.2) rotate(-90) scale(1 1.08)">(NSAIDs)</text>
<text font-size="10.3" fill="#1e1e1e" stroke="#1e1e1e" stroke-width="0.1" text-anchor="middle" transform="translate(53.2 44.7) rotate(-90) scale(1 0.93)">Barrier Integrity (%)</text>
<text font-size="10.3" fill="#1e1e1e" stroke="#1e1e1e" stroke-width="0.1" text-anchor="middle" transform="translate(53.2 142.5) rotate(-90) scale(1 0.93)">ATP production (%)</text>
<text font-size="10.3" fill="#1e1e1e" stroke="#1e1e1e" stroke-width="0.1" text-anchor="middle" transform="translate(53.2 256.2) rotate(-90) scale(1 0.93)">Barrier Integrity (%)</text>
<text font-size="10.3" fill="#1e1e1e" stroke="#1e1e1e" stroke-width="0.1" text-anchor="middle" transform="translate(53.2 354.4) rotate(-90) scale(1 0.93)">ATP production (%)</text>
<text font-size="10.3" fill="#1e1e1e" stroke="#1e1e1e" stroke-width="0.1" text-anchor="middle" transform="translate(53.2 476) rotate(-90) scale(1 0.93)">Barrier Integrity (%)</text>
<text font-size="10.3" fill="#1e1e1e" stroke="#1e1e1e" stroke-width="0.1" text-anchor="middle" transform="translate(53.2 573.4) rotate(-90) scale(1 0.93)">ATP production (%)</text>
<text font-size="10.3" fill="#1e1e1e" stroke="#1e1e1e" stroke-width="0.1" text-anchor="middle" transform="translate(579.6 256.1) rotate(-90) scale(1 0.93)">Barrier Integrity (%)</text>
<text font-size="10.3" fill="#1e1e1e" stroke="#1e1e1e" stroke-width="0.1" text-anchor="middle" transform="translate(579.6 354.6) rotate(-90) scale(1 0.93)">ATP production (%)</text>
<text font-size="10.4" fill="#262626" stroke="#262626" stroke-width="0.1" text-anchor="middle" transform="translate(378.2 199.3)">Concentration (µM)</text>
<text font-size="10.4" fill="#262626" stroke="#262626" stroke-width="0.1" text-anchor="middle" transform="translate(288.1 409)">Concentration (µM)</text>
<text font-size="10.4" fill="#262626" stroke="#262626" stroke-width="0.1" text-anchor="middle" transform="translate(288.1 628.5)">Concentration (µM)</text>
<line x1="603" y1="414.6" x2="617.5" y2="414.6" stroke="#c8161e" stroke-width="2"/>
<line x1="603" y1="426.1" x2="617.5" y2="426.1" stroke="#6a6a6a" stroke-width="2"/>
<text font-size="10" fill="#1e1e1e" stroke="#1e1e1e" stroke-width="0.1" transform="translate(623 418.7)">hIEC</text>
<text font-size="10" fill="#1e1e1e" stroke="#1e1e1e" stroke-width="0.1" transform="translate(623 430.9)">Caco-2</text>
</g></svg>
</div></body></html>
